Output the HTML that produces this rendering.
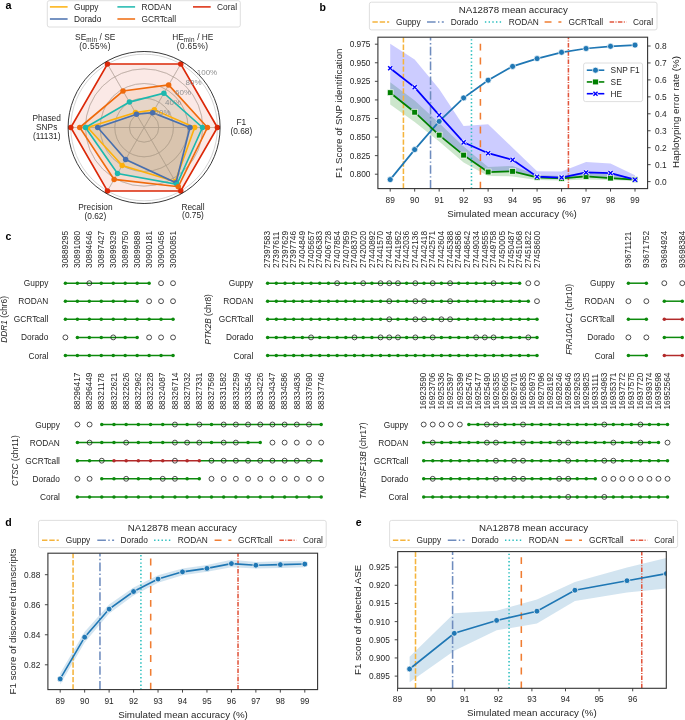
<!DOCTYPE html>
<html><head><meta charset="utf-8"><style>
html,body{margin:0;padding:0;background:#fff;width:685px;height:720px;overflow:hidden}
svg{display:block;will-change:transform}
text{font-family:"Liberation Sans", sans-serif}
</style></head><body>
<svg width="685" height="720" viewBox="0 0 685 720">
<rect width="685" height="720" fill="#fff"/>
<text x="5.6" y="9.2" font-size="10.8" fill="#000" font-weight="bold">a</text>
<circle cx="144.1" cy="127.5" r="14.66" fill="none" stroke="#c9c9c9" stroke-width="0.8"/>
<circle cx="144.1" cy="127.5" r="29.32" fill="none" stroke="#c9c9c9" stroke-width="0.8"/>
<circle cx="144.1" cy="127.5" r="43.98" fill="none" stroke="#c9c9c9" stroke-width="0.8"/>
<circle cx="144.1" cy="127.5" r="58.64" fill="none" stroke="#c9c9c9" stroke-width="0.8"/>
<circle cx="144.1" cy="127.5" r="73.3" fill="none" stroke="#c9c9c9" stroke-width="0.8"/>
<line x1="144.1" y1="127.5" x2="219.6" y2="127.5" stroke="#c9c9c9" stroke-width="0.8"/>
<line x1="144.1" y1="127.5" x2="181.85" y2="62.12" stroke="#c9c9c9" stroke-width="0.8"/>
<line x1="144.1" y1="127.5" x2="106.35" y2="62.12" stroke="#c9c9c9" stroke-width="0.8"/>
<line x1="144.1" y1="127.5" x2="68.6" y2="127.5" stroke="#c9c9c9" stroke-width="0.8"/>
<line x1="144.1" y1="127.5" x2="106.35" y2="192.88" stroke="#c9c9c9" stroke-width="0.8"/>
<line x1="144.1" y1="127.5" x2="181.85" y2="192.88" stroke="#c9c9c9" stroke-width="0.8"/>
<polygon points="194.68,127.5 154.36,109.73 135.49,112.58 87.66,127.5 122.18,165.46 175.25,181.46" stroke="none" stroke-width="1" fill="#fdb00c" fill-opacity="0.13"/>
<polygon points="189.99,127.5 152.68,112.65 136.48,114.3 97.7,127.5 125.63,159.49 175.99,182.73" stroke="none" stroke-width="1" fill="#486fae" fill-opacity="0.09"/>
<polygon points="202.52,127.5 163.89,93.22 129.44,102.11 85.46,127.5 117.49,173.59 176.94,184.38" stroke="none" stroke-width="1" fill="#1cb8ae" fill-opacity="0.1"/>
<polygon points="207.43,127.5 168.66,84.97 123.03,91 79.74,127.5 114.12,179.43 178.29,186.73" stroke="none" stroke-width="1" fill="#ef6a0c" fill-opacity="0.1"/>
<polygon points="217.4,127.5 180.75,64.02 107.45,64.02 70.8,127.5 107.45,190.98 180.75,190.98" stroke="none" stroke-width="1" fill="#dc2808" fill-opacity="0.1"/>
<circle cx="144.1" cy="127.5" r="14.66" fill="none" stroke="#a89a8c" stroke-width="0.7" stroke-opacity="0.55"/>
<circle cx="144.1" cy="127.5" r="29.32" fill="none" stroke="#a89a8c" stroke-width="0.7" stroke-opacity="0.55"/>
<circle cx="144.1" cy="127.5" r="43.98" fill="none" stroke="#a89a8c" stroke-width="0.7" stroke-opacity="0.55"/>
<circle cx="144.1" cy="127.5" r="58.64" fill="none" stroke="#a89a8c" stroke-width="0.7" stroke-opacity="0.55"/>
<line x1="144.1" y1="127.5" x2="217.4" y2="127.5" stroke="#a89a8c" stroke-width="0.7" stroke-opacity="0.55"/>
<line x1="144.1" y1="127.5" x2="180.75" y2="64.02" stroke="#a89a8c" stroke-width="0.7" stroke-opacity="0.55"/>
<line x1="144.1" y1="127.5" x2="107.45" y2="64.02" stroke="#a89a8c" stroke-width="0.7" stroke-opacity="0.55"/>
<line x1="144.1" y1="127.5" x2="70.8" y2="127.5" stroke="#a89a8c" stroke-width="0.7" stroke-opacity="0.55"/>
<line x1="144.1" y1="127.5" x2="107.45" y2="190.98" stroke="#a89a8c" stroke-width="0.7" stroke-opacity="0.55"/>
<line x1="144.1" y1="127.5" x2="180.75" y2="190.98" stroke="#a89a8c" stroke-width="0.7" stroke-opacity="0.55"/>
<polygon points="194.68,127.5 154.36,109.73 135.49,112.58 87.66,127.5 122.18,165.46 175.25,181.46" stroke="#fdb00c" stroke-width="1.65" fill="none"/>
<circle cx="194.68" cy="127.5" r="2.75" fill="#fdb00c" stroke="none" stroke-width="1"/>
<circle cx="154.36" cy="109.73" r="2.75" fill="#fdb00c" stroke="none" stroke-width="1"/>
<circle cx="135.49" cy="112.58" r="2.75" fill="#fdb00c" stroke="none" stroke-width="1"/>
<circle cx="87.66" cy="127.5" r="2.75" fill="#fdb00c" stroke="none" stroke-width="1"/>
<circle cx="122.18" cy="165.46" r="2.75" fill="#fdb00c" stroke="none" stroke-width="1"/>
<circle cx="175.25" cy="181.46" r="2.75" fill="#fdb00c" stroke="none" stroke-width="1"/>
<polygon points="189.99,127.5 152.68,112.65 136.48,114.3 97.7,127.5 125.63,159.49 175.99,182.73" stroke="#486fae" stroke-width="1.65" fill="none"/>
<circle cx="189.99" cy="127.5" r="2.75" fill="#486fae" stroke="none" stroke-width="1"/>
<circle cx="152.68" cy="112.65" r="2.75" fill="#486fae" stroke="none" stroke-width="1"/>
<circle cx="136.48" cy="114.3" r="2.75" fill="#486fae" stroke="none" stroke-width="1"/>
<circle cx="97.7" cy="127.5" r="2.75" fill="#486fae" stroke="none" stroke-width="1"/>
<circle cx="125.63" cy="159.49" r="2.75" fill="#486fae" stroke="none" stroke-width="1"/>
<circle cx="175.99" cy="182.73" r="2.75" fill="#486fae" stroke="none" stroke-width="1"/>
<polygon points="202.52,127.5 163.89,93.22 129.44,102.11 85.46,127.5 117.49,173.59 176.94,184.38" stroke="#1cb8ae" stroke-width="1.65" fill="none"/>
<circle cx="202.52" cy="127.5" r="2.75" fill="#1cb8ae" stroke="none" stroke-width="1"/>
<circle cx="163.89" cy="93.22" r="2.75" fill="#1cb8ae" stroke="none" stroke-width="1"/>
<circle cx="129.44" cy="102.11" r="2.75" fill="#1cb8ae" stroke="none" stroke-width="1"/>
<circle cx="85.46" cy="127.5" r="2.75" fill="#1cb8ae" stroke="none" stroke-width="1"/>
<circle cx="117.49" cy="173.59" r="2.75" fill="#1cb8ae" stroke="none" stroke-width="1"/>
<circle cx="176.94" cy="184.38" r="2.75" fill="#1cb8ae" stroke="none" stroke-width="1"/>
<polygon points="207.43,127.5 168.66,84.97 123.03,91 79.74,127.5 114.12,179.43 178.29,186.73" stroke="#ef6a0c" stroke-width="1.65" fill="none"/>
<circle cx="207.43" cy="127.5" r="2.75" fill="#ef6a0c" stroke="none" stroke-width="1"/>
<circle cx="168.66" cy="84.97" r="2.75" fill="#ef6a0c" stroke="none" stroke-width="1"/>
<circle cx="123.03" cy="91" r="2.75" fill="#ef6a0c" stroke="none" stroke-width="1"/>
<circle cx="79.74" cy="127.5" r="2.75" fill="#ef6a0c" stroke="none" stroke-width="1"/>
<circle cx="114.12" cy="179.43" r="2.75" fill="#ef6a0c" stroke="none" stroke-width="1"/>
<circle cx="178.29" cy="186.73" r="2.75" fill="#ef6a0c" stroke="none" stroke-width="1"/>
<polygon points="217.4,127.5 180.75,64.02 107.45,64.02 70.8,127.5 107.45,190.98 180.75,190.98" stroke="#dc2808" stroke-width="1.65" fill="none"/>
<circle cx="217.4" cy="127.5" r="2.75" fill="#dc2808" stroke="none" stroke-width="1"/>
<circle cx="180.75" cy="64.02" r="2.75" fill="#dc2808" stroke="none" stroke-width="1"/>
<circle cx="107.45" cy="64.02" r="2.75" fill="#dc2808" stroke="none" stroke-width="1"/>
<circle cx="70.8" cy="127.5" r="2.75" fill="#dc2808" stroke="none" stroke-width="1"/>
<circle cx="107.45" cy="190.98" r="2.75" fill="#dc2808" stroke="none" stroke-width="1"/>
<circle cx="180.75" cy="190.98" r="2.75" fill="#dc2808" stroke="none" stroke-width="1"/>
<circle cx="144.1" cy="127.5" r="76.01" fill="none" stroke="#222" stroke-width="0.9"/>
<text x="162.5" y="115.3" font-size="8" text-anchor="middle" fill="#8f8f8f">20%</text>
<text x="173" y="105.1" font-size="8" text-anchor="middle" fill="#8f8f8f">40%</text>
<text x="183" y="95.1" font-size="8" text-anchor="middle" fill="#8f8f8f">60%</text>
<text x="193.5" y="84.6" font-size="8" text-anchor="middle" fill="#8f8f8f">80%</text>
<text x="207" y="74.7" font-size="8" text-anchor="middle" fill="#8f8f8f">100%</text>
<text x="95.2" y="40" font-size="8.33" text-anchor="middle" fill="#262626">SE<tspan font-size="6.3" dy="1.5" letter-spacing="0.3">min</tspan><tspan dy="-1.5"> / SE</tspan></text>
<text x="95" y="49" font-size="8.33" text-anchor="middle" fill="#262626" letter-spacing="0.35">(0.55%)</text>
<text x="192.8" y="40" font-size="8.33" text-anchor="middle" fill="#262626">HE<tspan font-size="6.3" dy="1.5" letter-spacing="0.3">min</tspan><tspan dy="-1.5"> / HE</tspan></text>
<text x="192.6" y="49" font-size="8.33" text-anchor="middle" fill="#262626" letter-spacing="0.35">(0.65%)</text>
<text x="46.7" y="121" font-size="8.33" text-anchor="middle" fill="#262626">Phased</text>
<text x="46.7" y="130" font-size="8.33" text-anchor="middle" fill="#262626">SNPs</text>
<text x="46.7" y="138.9" font-size="8.33" text-anchor="middle" fill="#262626">(11131)</text>
<text x="241.3" y="125.4" font-size="8.33" text-anchor="middle" fill="#262626">F1</text>
<text x="241.3" y="134.3" font-size="8.33" text-anchor="middle" fill="#262626">(0.68)</text>
<text x="95.4" y="210" font-size="8.33" text-anchor="middle" fill="#262626">Precision</text>
<text x="95.4" y="218.7" font-size="8.33" text-anchor="middle" fill="#262626">(0.62)</text>
<text x="193" y="209.5" font-size="8.33" text-anchor="middle" fill="#262626">Recall</text>
<text x="193" y="218.3" font-size="8.33" text-anchor="middle" fill="#262626">(0.75)</text>
<rect x="47.3" y="0.7" width="193" height="26.3" rx="2" fill="#fff" stroke="#d6d6d6" stroke-width="0.8"/>
<line x1="49.9" y1="6.9" x2="67.6" y2="6.9" stroke="#fdb00c" stroke-width="1.5"/>
<text x="74" y="10" font-size="8.33" fill="#262626">Guppy</text>
<line x1="49.9" y1="19" x2="67.6" y2="19" stroke="#486fae" stroke-width="1.5"/>
<text x="74" y="22.1" font-size="8.33" fill="#262626">Dorado</text>
<line x1="117.4" y1="6.9" x2="135.1" y2="6.9" stroke="#1cb8ae" stroke-width="1.5"/>
<text x="141.5" y="10" font-size="8.33" fill="#262626">RODAN</text>
<line x1="117.4" y1="19" x2="135.1" y2="19" stroke="#ef6a0c" stroke-width="1.5"/>
<text x="141.5" y="22.1" font-size="8.33" fill="#262626">GCRT<tspan dx="-0.5">call</tspan></text>
<line x1="193" y1="6.9" x2="210.7" y2="6.9" stroke="#dc2808" stroke-width="1.5"/>
<text x="217.1" y="10" font-size="8.33" fill="#262626">Coral</text>
<text x="319.4" y="10.9" font-size="10.5" fill="#000" font-weight="bold">b</text>
<clipPath id="cb"><rect x="377.9" y="37.2" width="269.70000000000005" height="151.39999999999998"/></clipPath>
<g clip-path="url(#cb)">
<polygon points="390.2,82.3 414.68,100.4 439.16,123 463.64,146.4 488.12,167 512.6,166 537.08,175 561.56,176 586.04,172 610.52,174 635,178 635,181 610.52,180 586.04,179.5 561.56,180.5 537.08,180 512.6,176.4 488.12,176 463.64,162.5 439.16,141.5 414.68,122 390.2,104.5" stroke="none" stroke-width="1" fill="#008000" fill-opacity="0.2" stroke="#008000" stroke-opacity="0.2" stroke-width="0.8"/>
<polygon points="390.2,43.8 414.68,59.6 439.16,89 463.64,126.1 488.12,124.3 512.6,147.7 537.08,171.3 561.56,171.5 586.04,162.1 610.52,163.4 635,175.3 635,180.5 610.52,178.5 586.04,177 561.56,179 537.08,178 512.6,171 488.12,171 463.64,155.5 439.16,136 414.68,112.5 390.2,93.5" stroke="none" stroke-width="1" fill="#0000ff" fill-opacity="0.2" stroke="#0000ff" stroke-opacity="0.2" stroke-width="0.8"/>
<line x1="403.42" y1="188.6" x2="403.42" y2="37.2" stroke="#f5b43c" stroke-width="1.55" stroke-dasharray="5.4,1.9"/>
<line x1="430.54" y1="188.6" x2="430.54" y2="37.2" stroke="#6e8cbe" stroke-width="1.55" stroke-dasharray="8.6,2.4,1.4,2.4"/>
<line x1="471.47" y1="188.6" x2="471.47" y2="37.2" stroke="#28bebe" stroke-width="1.55" stroke-dasharray="1.4,2.3"/>
<line x1="480.41" y1="188.6" x2="480.41" y2="37.2" stroke="#f07d32" stroke-width="1.55" stroke-dasharray="6.9,6.9"/>
<line x1="568.41" y1="188.6" x2="568.41" y2="37.2" stroke="#e1553c" stroke-width="1.55" stroke-dasharray="4.5,1.4,1.0,1.4"/>
<polyline points="390.2,179.6 414.68,149.6 439.16,121.4 463.64,97.9 488.12,80.2 512.6,66.4 537.08,58.6 561.56,52.3 586.04,48.5 610.52,46.3 635,45.1" stroke="#1f77b4" stroke-width="1.75" fill="none"/>
<polyline points="390.2,92.7 414.68,112.2 439.16,135.1 463.64,155.1 488.12,172 512.6,171.3 537.08,177.4 561.56,178.4 586.04,176.5 610.52,178.1 635,179.7" stroke="#008000" stroke-width="1.75" fill="none"/>
<polyline points="390.2,68.3 414.68,87.3 439.16,115.1 463.64,142.4 488.12,153.2 512.6,159.9 537.08,176.7 561.56,177.5 586.04,172.5 610.52,173.1 635,179.7" stroke="#0000ff" stroke-width="1.75" fill="none"/>
<circle cx="390.2" cy="179.6" r="3" fill="#1f77b4" stroke="#fff" stroke-width="0.7"/>
<circle cx="414.68" cy="149.6" r="3" fill="#1f77b4" stroke="#fff" stroke-width="0.7"/>
<circle cx="439.16" cy="121.4" r="3" fill="#1f77b4" stroke="#fff" stroke-width="0.7"/>
<circle cx="463.64" cy="97.9" r="3" fill="#1f77b4" stroke="#fff" stroke-width="0.7"/>
<circle cx="488.12" cy="80.2" r="3" fill="#1f77b4" stroke="#fff" stroke-width="0.7"/>
<circle cx="512.6" cy="66.4" r="3" fill="#1f77b4" stroke="#fff" stroke-width="0.7"/>
<circle cx="537.08" cy="58.6" r="3" fill="#1f77b4" stroke="#fff" stroke-width="0.7"/>
<circle cx="561.56" cy="52.3" r="3" fill="#1f77b4" stroke="#fff" stroke-width="0.7"/>
<circle cx="586.04" cy="48.5" r="3" fill="#1f77b4" stroke="#fff" stroke-width="0.7"/>
<circle cx="610.52" cy="46.3" r="3" fill="#1f77b4" stroke="#fff" stroke-width="0.7"/>
<circle cx="635" cy="45.1" r="3" fill="#1f77b4" stroke="#fff" stroke-width="0.7"/>
<rect x="387.3" y="89.8" width="5.8" height="5.8" rx="0" fill="#008000" stroke="#fff" stroke-width="0.7"/>
<rect x="411.78" y="109.3" width="5.8" height="5.8" rx="0" fill="#008000" stroke="#fff" stroke-width="0.7"/>
<rect x="436.26" y="132.2" width="5.8" height="5.8" rx="0" fill="#008000" stroke="#fff" stroke-width="0.7"/>
<rect x="460.74" y="152.2" width="5.8" height="5.8" rx="0" fill="#008000" stroke="#fff" stroke-width="0.7"/>
<rect x="485.22" y="169.1" width="5.8" height="5.8" rx="0" fill="#008000" stroke="#fff" stroke-width="0.7"/>
<rect x="509.7" y="168.4" width="5.8" height="5.8" rx="0" fill="#008000" stroke="#fff" stroke-width="0.7"/>
<rect x="534.18" y="174.5" width="5.8" height="5.8" rx="0" fill="#008000" stroke="#fff" stroke-width="0.7"/>
<rect x="558.66" y="175.5" width="5.8" height="5.8" rx="0" fill="#008000" stroke="#fff" stroke-width="0.7"/>
<rect x="583.14" y="173.6" width="5.8" height="5.8" rx="0" fill="#008000" stroke="#fff" stroke-width="0.7"/>
<rect x="607.62" y="175.2" width="5.8" height="5.8" rx="0" fill="#008000" stroke="#fff" stroke-width="0.7"/>
<rect x="632.1" y="176.8" width="5.8" height="5.8" rx="0" fill="#008000" stroke="#fff" stroke-width="0.7"/>
<path d="M388.15,66.25L392.25,70.35M388.15,70.35L392.25,66.25" stroke="#fff" stroke-width="2.8"/>
<path d="M388.15,66.25L392.25,70.35M388.15,70.35L392.25,66.25" stroke="#0000ff" stroke-width="1.4"/>
<path d="M412.63,85.25L416.73,89.35M412.63,89.35L416.73,85.25" stroke="#fff" stroke-width="2.8"/>
<path d="M412.63,85.25L416.73,89.35M412.63,89.35L416.73,85.25" stroke="#0000ff" stroke-width="1.4"/>
<path d="M437.11,113.05L441.21,117.15M437.11,117.15L441.21,113.05" stroke="#fff" stroke-width="2.8"/>
<path d="M437.11,113.05L441.21,117.15M437.11,117.15L441.21,113.05" stroke="#0000ff" stroke-width="1.4"/>
<path d="M461.59,140.35L465.69,144.45M461.59,144.45L465.69,140.35" stroke="#fff" stroke-width="2.8"/>
<path d="M461.59,140.35L465.69,144.45M461.59,144.45L465.69,140.35" stroke="#0000ff" stroke-width="1.4"/>
<path d="M486.07,151.15L490.17,155.25M486.07,155.25L490.17,151.15" stroke="#fff" stroke-width="2.8"/>
<path d="M486.07,151.15L490.17,155.25M486.07,155.25L490.17,151.15" stroke="#0000ff" stroke-width="1.4"/>
<path d="M510.55,157.85L514.65,161.95M510.55,161.95L514.65,157.85" stroke="#fff" stroke-width="2.8"/>
<path d="M510.55,157.85L514.65,161.95M510.55,161.95L514.65,157.85" stroke="#0000ff" stroke-width="1.4"/>
<path d="M535.03,174.65L539.13,178.75M535.03,178.75L539.13,174.65" stroke="#fff" stroke-width="2.8"/>
<path d="M535.03,174.65L539.13,178.75M535.03,178.75L539.13,174.65" stroke="#0000ff" stroke-width="1.4"/>
<path d="M559.51,175.45L563.61,179.55M559.51,179.55L563.61,175.45" stroke="#fff" stroke-width="2.8"/>
<path d="M559.51,175.45L563.61,179.55M559.51,179.55L563.61,175.45" stroke="#0000ff" stroke-width="1.4"/>
<path d="M583.99,170.45L588.09,174.55M583.99,174.55L588.09,170.45" stroke="#fff" stroke-width="2.8"/>
<path d="M583.99,170.45L588.09,174.55M583.99,174.55L588.09,170.45" stroke="#0000ff" stroke-width="1.4"/>
<path d="M608.47,171.05L612.57,175.15M608.47,175.15L612.57,171.05" stroke="#fff" stroke-width="2.8"/>
<path d="M608.47,171.05L612.57,175.15M608.47,175.15L612.57,171.05" stroke="#0000ff" stroke-width="1.4"/>
<path d="M632.95,177.65L637.05,181.75M632.95,181.75L637.05,177.65" stroke="#fff" stroke-width="2.8"/>
<path d="M632.95,177.65L637.05,181.75M632.95,181.75L637.05,177.65" stroke="#0000ff" stroke-width="1.4"/>
</g>
<rect x="377.9" y="37.2" width="269.7" height="151.4" rx="0" fill="none" stroke="#333" stroke-width="1.1"/>
<line x1="390.2" y1="188.6" x2="390.2" y2="191.6" stroke="#333" stroke-width="0.9"/>
<text x="390.2" y="202.8" font-size="8.33" text-anchor="middle" fill="#262626">89</text>
<line x1="414.68" y1="188.6" x2="414.68" y2="191.6" stroke="#333" stroke-width="0.9"/>
<text x="414.68" y="202.8" font-size="8.33" text-anchor="middle" fill="#262626">90</text>
<line x1="439.16" y1="188.6" x2="439.16" y2="191.6" stroke="#333" stroke-width="0.9"/>
<text x="439.16" y="202.8" font-size="8.33" text-anchor="middle" fill="#262626">91</text>
<line x1="463.64" y1="188.6" x2="463.64" y2="191.6" stroke="#333" stroke-width="0.9"/>
<text x="463.64" y="202.8" font-size="8.33" text-anchor="middle" fill="#262626">92</text>
<line x1="488.12" y1="188.6" x2="488.12" y2="191.6" stroke="#333" stroke-width="0.9"/>
<text x="488.12" y="202.8" font-size="8.33" text-anchor="middle" fill="#262626">93</text>
<line x1="512.6" y1="188.6" x2="512.6" y2="191.6" stroke="#333" stroke-width="0.9"/>
<text x="512.6" y="202.8" font-size="8.33" text-anchor="middle" fill="#262626">94</text>
<line x1="537.08" y1="188.6" x2="537.08" y2="191.6" stroke="#333" stroke-width="0.9"/>
<text x="537.08" y="202.8" font-size="8.33" text-anchor="middle" fill="#262626">95</text>
<line x1="561.56" y1="188.6" x2="561.56" y2="191.6" stroke="#333" stroke-width="0.9"/>
<text x="561.56" y="202.8" font-size="8.33" text-anchor="middle" fill="#262626">96</text>
<line x1="586.04" y1="188.6" x2="586.04" y2="191.6" stroke="#333" stroke-width="0.9"/>
<text x="586.04" y="202.8" font-size="8.33" text-anchor="middle" fill="#262626">97</text>
<line x1="610.52" y1="188.6" x2="610.52" y2="191.6" stroke="#333" stroke-width="0.9"/>
<text x="610.52" y="202.8" font-size="8.33" text-anchor="middle" fill="#262626">98</text>
<line x1="635" y1="188.6" x2="635" y2="191.6" stroke="#333" stroke-width="0.9"/>
<text x="635" y="202.8" font-size="8.33" text-anchor="middle" fill="#262626">99</text>
<line x1="374.9" y1="174.21" x2="377.9" y2="174.21" stroke="#333" stroke-width="0.9"/>
<text x="370.5" y="177.21" font-size="8.33" text-anchor="end" fill="#262626">0.800</text>
<line x1="374.9" y1="155.64" x2="377.9" y2="155.64" stroke="#333" stroke-width="0.9"/>
<text x="370.5" y="158.64" font-size="8.33" text-anchor="end" fill="#262626">0.825</text>
<line x1="374.9" y1="137.06" x2="377.9" y2="137.06" stroke="#333" stroke-width="0.9"/>
<text x="370.5" y="140.06" font-size="8.33" text-anchor="end" fill="#262626">0.850</text>
<line x1="374.9" y1="118.49" x2="377.9" y2="118.49" stroke="#333" stroke-width="0.9"/>
<text x="370.5" y="121.49" font-size="8.33" text-anchor="end" fill="#262626">0.875</text>
<line x1="374.9" y1="99.92" x2="377.9" y2="99.92" stroke="#333" stroke-width="0.9"/>
<text x="370.5" y="102.92" font-size="8.33" text-anchor="end" fill="#262626">0.900</text>
<line x1="374.9" y1="81.34" x2="377.9" y2="81.34" stroke="#333" stroke-width="0.9"/>
<text x="370.5" y="84.34" font-size="8.33" text-anchor="end" fill="#262626">0.925</text>
<line x1="374.9" y1="62.77" x2="377.9" y2="62.77" stroke="#333" stroke-width="0.9"/>
<text x="370.5" y="65.77" font-size="8.33" text-anchor="end" fill="#262626">0.950</text>
<line x1="374.9" y1="44.2" x2="377.9" y2="44.2" stroke="#333" stroke-width="0.9"/>
<text x="370.5" y="47.2" font-size="8.33" text-anchor="end" fill="#262626">0.975</text>
<line x1="647.6" y1="181.6" x2="650.6" y2="181.6" stroke="#333" stroke-width="0.9"/>
<text x="655" y="184.6" font-size="8.33" fill="#262626">0.0</text>
<line x1="647.6" y1="164.65" x2="650.6" y2="164.65" stroke="#333" stroke-width="0.9"/>
<text x="655" y="167.65" font-size="8.33" fill="#262626">0.1</text>
<line x1="647.6" y1="147.7" x2="650.6" y2="147.7" stroke="#333" stroke-width="0.9"/>
<text x="655" y="150.7" font-size="8.33" fill="#262626">0.2</text>
<line x1="647.6" y1="130.75" x2="650.6" y2="130.75" stroke="#333" stroke-width="0.9"/>
<text x="655" y="133.75" font-size="8.33" fill="#262626">0.3</text>
<line x1="647.6" y1="113.8" x2="650.6" y2="113.8" stroke="#333" stroke-width="0.9"/>
<text x="655" y="116.8" font-size="8.33" fill="#262626">0.4</text>
<line x1="647.6" y1="96.85" x2="650.6" y2="96.85" stroke="#333" stroke-width="0.9"/>
<text x="655" y="99.85" font-size="8.33" fill="#262626">0.5</text>
<line x1="647.6" y1="79.9" x2="650.6" y2="79.9" stroke="#333" stroke-width="0.9"/>
<text x="655" y="82.9" font-size="8.33" fill="#262626">0.6</text>
<line x1="647.6" y1="62.95" x2="650.6" y2="62.95" stroke="#333" stroke-width="0.9"/>
<text x="655" y="65.95" font-size="8.33" fill="#262626">0.7</text>
<line x1="647.6" y1="46" x2="650.6" y2="46" stroke="#333" stroke-width="0.9"/>
<text x="655" y="49" font-size="8.33" fill="#262626">0.8</text>
<text x="512" y="217.1" font-size="9.72" text-anchor="middle" fill="#262626">Simulated mean accuracy (%)</text>
<text x="341.9" y="113.2" font-size="9.72" text-anchor="middle" fill="#262626" transform="rotate(-90 341.9 113.2)">F1 Score of SNP identification</text>
<text x="679.2" y="112" font-size="9.72" text-anchor="middle" fill="#262626" transform="rotate(-90 679.2 112)">Haplotyping error rate (%)</text>
<rect x="583.6" y="63" width="59" height="38.6" rx="2" fill="#fff" stroke="#d6d6d6" stroke-width="0.8" fill-opacity="0.8"/>
<line x1="586.8" y1="70.2" x2="604.3" y2="70.2" stroke="#1f77b4" stroke-width="1.6"/>
<circle cx="595.5" cy="70.2" r="3" fill="#1f77b4" stroke="#fff" stroke-width="0.7"/>
<text x="610.6" y="73.2" font-size="8.33" fill="#262626">SNP F1</text>
<line x1="586.8" y1="81.95" x2="604.3" y2="81.95" stroke="#008000" stroke-width="1.6"/>
<rect x="592.6" y="79.05" width="5.8" height="5.8" rx="0" fill="#008000" stroke="#fff" stroke-width="0.7"/>
<text x="610.6" y="84.95" font-size="8.33" fill="#262626">SE</text>
<line x1="586.8" y1="93.7" x2="604.3" y2="93.7" stroke="#0000ff" stroke-width="1.6"/>
<path d="M593.45,91.65L597.55,95.75M593.45,95.75L597.55,91.65" stroke="#fff" stroke-width="2.8"/>
<path d="M593.45,91.65L597.55,95.75M593.45,95.75L597.55,91.65" stroke="#0000ff" stroke-width="1.4"/>
<text x="610.6" y="96.7" font-size="8.33" fill="#262626">HE</text>
<rect x="369.4" y="2.2" width="287.6" height="27.7" rx="2" fill="#fff" stroke="#d6d6d6" stroke-width="0.8"/>
<text x="513.2" y="12.5" font-size="9.72" text-anchor="middle" fill="#262626">NA12878 mean accuracy</text>
<line x1="372.4" y1="22" x2="389.2" y2="22" stroke="#f5b43c" stroke-width="1.55" stroke-dasharray="5.4,1.9"/>
<text x="396.1" y="25" font-size="8.33" fill="#262626">Guppy</text>
<line x1="427" y1="22" x2="443.8" y2="22" stroke="#6e8cbe" stroke-width="1.55" stroke-dasharray="8.6,2.4,1.4,2.4"/>
<text x="450.8" y="25" font-size="8.33" fill="#262626">Dorado</text>
<line x1="484.9" y1="22" x2="501.7" y2="22" stroke="#28bebe" stroke-width="1.55" stroke-dasharray="1.4,2.3"/>
<text x="508.7" y="25" font-size="8.33" fill="#262626">RODAN</text>
<line x1="544.6" y1="22" x2="561.4" y2="22" stroke="#f07d32" stroke-width="1.55" stroke-dasharray="6.9,6.9"/>
<text x="568.6" y="25" font-size="8.33" fill="#262626">GCRT<tspan dx="-0.5">call</tspan></text>
<line x1="609.6" y1="22" x2="626.4" y2="22" stroke="#e1553c" stroke-width="1.55" stroke-dasharray="4.5,1.4,1.0,1.4"/>
<text x="633.1" y="25" font-size="8.33" fill="#262626">Coral</text>
<text x="5.5" y="240.4" font-size="10.5" fill="#000" font-weight="bold">c</text>
<text x="48.4" y="286.2" font-size="8.33" text-anchor="end" fill="#262626">Guppy</text>
<line x1="65.4" y1="283.2" x2="149.12" y2="283.2" stroke="#0d8a0d" stroke-width="1.5"/>
<circle cx="65.4" cy="283.2" r="1.75" fill="#0d8a0d" stroke="none" stroke-width="1"/>
<circle cx="77.36" cy="283.2" r="1.75" fill="#0d8a0d" stroke="none" stroke-width="1"/>
<circle cx="89.32" cy="283.2" r="2.45" fill="none" stroke="#222" stroke-width="0.8"/>
<circle cx="101.28" cy="283.2" r="1.75" fill="#0d8a0d" stroke="none" stroke-width="1"/>
<circle cx="113.24" cy="283.2" r="1.75" fill="#0d8a0d" stroke="none" stroke-width="1"/>
<circle cx="125.2" cy="283.2" r="1.75" fill="#0d8a0d" stroke="none" stroke-width="1"/>
<circle cx="137.16" cy="283.2" r="1.75" fill="#0d8a0d" stroke="none" stroke-width="1"/>
<circle cx="149.12" cy="283.2" r="1.75" fill="#0d8a0d" stroke="none" stroke-width="1"/>
<circle cx="161.08" cy="283.2" r="2.45" fill="none" stroke="#222" stroke-width="0.8"/>
<circle cx="173.04" cy="283.2" r="2.45" fill="none" stroke="#222" stroke-width="0.8"/>
<text x="48.4" y="304.2" font-size="8.33" text-anchor="end" fill="#262626">RODAN</text>
<line x1="65.4" y1="301.2" x2="137.16" y2="301.2" stroke="#0d8a0d" stroke-width="1.5"/>
<circle cx="65.4" cy="301.2" r="1.75" fill="#0d8a0d" stroke="none" stroke-width="1"/>
<circle cx="77.36" cy="301.2" r="1.75" fill="#0d8a0d" stroke="none" stroke-width="1"/>
<circle cx="89.32" cy="301.2" r="1.75" fill="#0d8a0d" stroke="none" stroke-width="1"/>
<circle cx="101.28" cy="301.2" r="1.75" fill="#0d8a0d" stroke="none" stroke-width="1"/>
<circle cx="113.24" cy="301.2" r="1.75" fill="#0d8a0d" stroke="none" stroke-width="1"/>
<circle cx="125.2" cy="301.2" r="1.75" fill="#0d8a0d" stroke="none" stroke-width="1"/>
<circle cx="137.16" cy="301.2" r="1.75" fill="#0d8a0d" stroke="none" stroke-width="1"/>
<circle cx="149.12" cy="301.2" r="2.45" fill="none" stroke="#222" stroke-width="0.8"/>
<circle cx="161.08" cy="301.2" r="2.45" fill="none" stroke="#222" stroke-width="0.8"/>
<circle cx="173.04" cy="301.2" r="2.45" fill="none" stroke="#222" stroke-width="0.8"/>
<text x="48.4" y="322.3" font-size="8.33" text-anchor="end" fill="#262626">GCRT<tspan dx="-0.5">call</tspan></text>
<line x1="65.4" y1="319.3" x2="173.04" y2="319.3" stroke="#0d8a0d" stroke-width="1.5"/>
<circle cx="65.4" cy="319.3" r="1.75" fill="#0d8a0d" stroke="none" stroke-width="1"/>
<circle cx="77.36" cy="319.3" r="1.75" fill="#0d8a0d" stroke="none" stroke-width="1"/>
<circle cx="89.32" cy="319.3" r="1.75" fill="#0d8a0d" stroke="none" stroke-width="1"/>
<circle cx="101.28" cy="319.3" r="1.75" fill="#0d8a0d" stroke="none" stroke-width="1"/>
<circle cx="113.24" cy="319.3" r="1.75" fill="#0d8a0d" stroke="none" stroke-width="1"/>
<circle cx="125.2" cy="319.3" r="1.75" fill="#0d8a0d" stroke="none" stroke-width="1"/>
<circle cx="137.16" cy="319.3" r="1.75" fill="#0d8a0d" stroke="none" stroke-width="1"/>
<circle cx="149.12" cy="319.3" r="1.75" fill="#0d8a0d" stroke="none" stroke-width="1"/>
<circle cx="161.08" cy="319.3" r="1.75" fill="#0d8a0d" stroke="none" stroke-width="1"/>
<circle cx="173.04" cy="319.3" r="1.75" fill="#0d8a0d" stroke="none" stroke-width="1"/>
<text x="48.4" y="340.4" font-size="8.33" text-anchor="end" fill="#262626">Dorado</text>
<line x1="77.36" y1="337.4" x2="137.16" y2="337.4" stroke="#0d8a0d" stroke-width="1.5"/>
<circle cx="65.4" cy="337.4" r="2.45" fill="none" stroke="#222" stroke-width="0.8"/>
<circle cx="77.36" cy="337.4" r="1.75" fill="#0d8a0d" stroke="none" stroke-width="1"/>
<circle cx="89.32" cy="337.4" r="1.75" fill="#0d8a0d" stroke="none" stroke-width="1"/>
<circle cx="101.28" cy="337.4" r="1.75" fill="#0d8a0d" stroke="none" stroke-width="1"/>
<circle cx="113.24" cy="337.4" r="2.45" fill="none" stroke="#222" stroke-width="0.8"/>
<circle cx="125.2" cy="337.4" r="1.75" fill="#0d8a0d" stroke="none" stroke-width="1"/>
<circle cx="137.16" cy="337.4" r="1.75" fill="#0d8a0d" stroke="none" stroke-width="1"/>
<circle cx="149.12" cy="337.4" r="2.45" fill="none" stroke="#222" stroke-width="0.8"/>
<circle cx="161.08" cy="337.4" r="2.45" fill="none" stroke="#222" stroke-width="0.8"/>
<circle cx="173.04" cy="337.4" r="2.45" fill="none" stroke="#222" stroke-width="0.8"/>
<text x="48.4" y="358.5" font-size="8.33" text-anchor="end" fill="#262626">Coral</text>
<line x1="65.4" y1="355.5" x2="173.04" y2="355.5" stroke="#0d8a0d" stroke-width="1.5"/>
<circle cx="65.4" cy="355.5" r="1.75" fill="#0d8a0d" stroke="none" stroke-width="1"/>
<circle cx="77.36" cy="355.5" r="1.75" fill="#0d8a0d" stroke="none" stroke-width="1"/>
<circle cx="89.32" cy="355.5" r="1.75" fill="#0d8a0d" stroke="none" stroke-width="1"/>
<circle cx="101.28" cy="355.5" r="1.75" fill="#0d8a0d" stroke="none" stroke-width="1"/>
<circle cx="113.24" cy="355.5" r="1.75" fill="#0d8a0d" stroke="none" stroke-width="1"/>
<circle cx="125.2" cy="355.5" r="1.75" fill="#0d8a0d" stroke="none" stroke-width="1"/>
<circle cx="137.16" cy="355.5" r="1.75" fill="#0d8a0d" stroke="none" stroke-width="1"/>
<circle cx="149.12" cy="355.5" r="1.75" fill="#0d8a0d" stroke="none" stroke-width="1"/>
<circle cx="161.08" cy="355.5" r="1.75" fill="#0d8a0d" stroke="none" stroke-width="1"/>
<circle cx="173.04" cy="355.5" r="1.75" fill="#0d8a0d" stroke="none" stroke-width="1"/>
<text x="68.1" y="268" font-size="8.33" fill="#262626" transform="rotate(-90 68.1 268)">30889295</text>
<text x="80.06" y="268" font-size="8.33" fill="#262626" transform="rotate(-90 80.06 268)">30891080</text>
<text x="92.02" y="268" font-size="8.33" fill="#262626" transform="rotate(-90 92.02 268)">30894646</text>
<text x="103.98" y="268" font-size="8.33" fill="#262626" transform="rotate(-90 103.98 268)">30897427</text>
<text x="115.94" y="268" font-size="8.33" fill="#262626" transform="rotate(-90 115.94 268)">30899329</text>
<text x="127.9" y="268" font-size="8.33" fill="#262626" transform="rotate(-90 127.9 268)">30899750</text>
<text x="139.86" y="268" font-size="8.33" fill="#262626" transform="rotate(-90 139.86 268)">30899889</text>
<text x="151.82" y="268" font-size="8.33" fill="#262626" transform="rotate(-90 151.82 268)">30900181</text>
<text x="163.78" y="268" font-size="8.33" fill="#262626" transform="rotate(-90 163.78 268)">30900456</text>
<text x="175.74" y="268" font-size="8.33" fill="#262626" transform="rotate(-90 175.74 268)">30900851</text>
<text x="7.2" y="319.35" font-size="8.33" text-anchor="middle" fill="#262626" transform="rotate(-90 7.2 319.35)"><tspan font-style="italic">DDR1</tspan> (chr6)</text>
<text x="253.3" y="286.2" font-size="8.33" text-anchor="end" fill="#262626">Guppy</text>
<line x1="267.6" y1="283.2" x2="519.61" y2="283.2" stroke="#0d8a0d" stroke-width="1.5"/>
<circle cx="267.6" cy="283.2" r="1.75" fill="#0d8a0d" stroke="none" stroke-width="1"/>
<circle cx="276.29" cy="283.2" r="1.75" fill="#0d8a0d" stroke="none" stroke-width="1"/>
<circle cx="284.98" cy="283.2" r="1.75" fill="#0d8a0d" stroke="none" stroke-width="1"/>
<circle cx="293.67" cy="283.2" r="1.75" fill="#0d8a0d" stroke="none" stroke-width="1"/>
<circle cx="302.36" cy="283.2" r="1.75" fill="#0d8a0d" stroke="none" stroke-width="1"/>
<circle cx="311.05" cy="283.2" r="1.75" fill="#0d8a0d" stroke="none" stroke-width="1"/>
<circle cx="319.74" cy="283.2" r="1.75" fill="#0d8a0d" stroke="none" stroke-width="1"/>
<circle cx="328.43" cy="283.2" r="1.75" fill="#0d8a0d" stroke="none" stroke-width="1"/>
<circle cx="337.12" cy="283.2" r="2.45" fill="none" stroke="#222" stroke-width="0.8"/>
<circle cx="345.81" cy="283.2" r="1.75" fill="#0d8a0d" stroke="none" stroke-width="1"/>
<circle cx="354.5" cy="283.2" r="1.75" fill="#0d8a0d" stroke="none" stroke-width="1"/>
<circle cx="363.19" cy="283.2" r="2.45" fill="none" stroke="#222" stroke-width="0.8"/>
<circle cx="371.88" cy="283.2" r="1.75" fill="#0d8a0d" stroke="none" stroke-width="1"/>
<circle cx="380.57" cy="283.2" r="2.45" fill="none" stroke="#222" stroke-width="0.8"/>
<circle cx="389.26" cy="283.2" r="2.45" fill="none" stroke="#222" stroke-width="0.8"/>
<circle cx="397.95" cy="283.2" r="2.45" fill="none" stroke="#222" stroke-width="0.8"/>
<circle cx="406.64" cy="283.2" r="1.75" fill="#0d8a0d" stroke="none" stroke-width="1"/>
<circle cx="415.33" cy="283.2" r="2.45" fill="none" stroke="#222" stroke-width="0.8"/>
<circle cx="424.02" cy="283.2" r="1.75" fill="#0d8a0d" stroke="none" stroke-width="1"/>
<circle cx="432.71" cy="283.2" r="2.45" fill="none" stroke="#222" stroke-width="0.8"/>
<circle cx="441.4" cy="283.2" r="1.75" fill="#0d8a0d" stroke="none" stroke-width="1"/>
<circle cx="450.09" cy="283.2" r="2.45" fill="none" stroke="#222" stroke-width="0.8"/>
<circle cx="458.78" cy="283.2" r="1.75" fill="#0d8a0d" stroke="none" stroke-width="1"/>
<circle cx="467.47" cy="283.2" r="1.75" fill="#0d8a0d" stroke="none" stroke-width="1"/>
<circle cx="476.16" cy="283.2" r="1.75" fill="#0d8a0d" stroke="none" stroke-width="1"/>
<circle cx="484.85" cy="283.2" r="1.75" fill="#0d8a0d" stroke="none" stroke-width="1"/>
<circle cx="493.54" cy="283.2" r="2.45" fill="none" stroke="#222" stroke-width="0.8"/>
<circle cx="502.23" cy="283.2" r="1.75" fill="#0d8a0d" stroke="none" stroke-width="1"/>
<circle cx="510.92" cy="283.2" r="1.75" fill="#0d8a0d" stroke="none" stroke-width="1"/>
<circle cx="519.61" cy="283.2" r="1.75" fill="#0d8a0d" stroke="none" stroke-width="1"/>
<circle cx="528.3" cy="283.2" r="2.45" fill="none" stroke="#222" stroke-width="0.8"/>
<circle cx="536.99" cy="283.2" r="2.45" fill="none" stroke="#222" stroke-width="0.8"/>
<text x="253.3" y="304.2" font-size="8.33" text-anchor="end" fill="#262626">RODAN</text>
<line x1="267.6" y1="301.2" x2="528.3" y2="301.2" stroke="#0d8a0d" stroke-width="1.5"/>
<circle cx="267.6" cy="301.2" r="1.75" fill="#0d8a0d" stroke="none" stroke-width="1"/>
<circle cx="276.29" cy="301.2" r="1.75" fill="#0d8a0d" stroke="none" stroke-width="1"/>
<circle cx="284.98" cy="301.2" r="1.75" fill="#0d8a0d" stroke="none" stroke-width="1"/>
<circle cx="293.67" cy="301.2" r="1.75" fill="#0d8a0d" stroke="none" stroke-width="1"/>
<circle cx="302.36" cy="301.2" r="1.75" fill="#0d8a0d" stroke="none" stroke-width="1"/>
<circle cx="311.05" cy="301.2" r="1.75" fill="#0d8a0d" stroke="none" stroke-width="1"/>
<circle cx="319.74" cy="301.2" r="1.75" fill="#0d8a0d" stroke="none" stroke-width="1"/>
<circle cx="328.43" cy="301.2" r="1.75" fill="#0d8a0d" stroke="none" stroke-width="1"/>
<circle cx="337.12" cy="301.2" r="1.75" fill="#0d8a0d" stroke="none" stroke-width="1"/>
<circle cx="345.81" cy="301.2" r="1.75" fill="#0d8a0d" stroke="none" stroke-width="1"/>
<circle cx="354.5" cy="301.2" r="1.75" fill="#0d8a0d" stroke="none" stroke-width="1"/>
<circle cx="363.19" cy="301.2" r="1.75" fill="#0d8a0d" stroke="none" stroke-width="1"/>
<circle cx="371.88" cy="301.2" r="1.75" fill="#0d8a0d" stroke="none" stroke-width="1"/>
<circle cx="380.57" cy="301.2" r="1.75" fill="#0d8a0d" stroke="none" stroke-width="1"/>
<circle cx="389.26" cy="301.2" r="2.45" fill="none" stroke="#222" stroke-width="0.8"/>
<circle cx="397.95" cy="301.2" r="1.75" fill="#0d8a0d" stroke="none" stroke-width="1"/>
<circle cx="406.64" cy="301.2" r="1.75" fill="#0d8a0d" stroke="none" stroke-width="1"/>
<circle cx="415.33" cy="301.2" r="2.45" fill="none" stroke="#222" stroke-width="0.8"/>
<circle cx="424.02" cy="301.2" r="2.45" fill="none" stroke="#222" stroke-width="0.8"/>
<circle cx="432.71" cy="301.2" r="1.75" fill="#0d8a0d" stroke="none" stroke-width="1"/>
<circle cx="441.4" cy="301.2" r="1.75" fill="#0d8a0d" stroke="none" stroke-width="1"/>
<circle cx="450.09" cy="301.2" r="2.45" fill="none" stroke="#222" stroke-width="0.8"/>
<circle cx="458.78" cy="301.2" r="1.75" fill="#0d8a0d" stroke="none" stroke-width="1"/>
<circle cx="467.47" cy="301.2" r="1.75" fill="#0d8a0d" stroke="none" stroke-width="1"/>
<circle cx="476.16" cy="301.2" r="1.75" fill="#0d8a0d" stroke="none" stroke-width="1"/>
<circle cx="484.85" cy="301.2" r="1.75" fill="#0d8a0d" stroke="none" stroke-width="1"/>
<circle cx="493.54" cy="301.2" r="1.75" fill="#0d8a0d" stroke="none" stroke-width="1"/>
<circle cx="502.23" cy="301.2" r="1.75" fill="#0d8a0d" stroke="none" stroke-width="1"/>
<circle cx="510.92" cy="301.2" r="1.75" fill="#0d8a0d" stroke="none" stroke-width="1"/>
<circle cx="519.61" cy="301.2" r="1.75" fill="#0d8a0d" stroke="none" stroke-width="1"/>
<circle cx="528.3" cy="301.2" r="1.75" fill="#0d8a0d" stroke="none" stroke-width="1"/>
<circle cx="536.99" cy="301.2" r="2.45" fill="none" stroke="#222" stroke-width="0.8"/>
<text x="253.3" y="322.3" font-size="8.33" text-anchor="end" fill="#262626">GCRT<tspan dx="-0.5">call</tspan></text>
<line x1="267.6" y1="319.3" x2="536.99" y2="319.3" stroke="#0d8a0d" stroke-width="1.5"/>
<circle cx="267.6" cy="319.3" r="1.75" fill="#0d8a0d" stroke="none" stroke-width="1"/>
<circle cx="276.29" cy="319.3" r="1.75" fill="#0d8a0d" stroke="none" stroke-width="1"/>
<circle cx="284.98" cy="319.3" r="1.75" fill="#0d8a0d" stroke="none" stroke-width="1"/>
<circle cx="293.67" cy="319.3" r="1.75" fill="#0d8a0d" stroke="none" stroke-width="1"/>
<circle cx="302.36" cy="319.3" r="1.75" fill="#0d8a0d" stroke="none" stroke-width="1"/>
<circle cx="311.05" cy="319.3" r="1.75" fill="#0d8a0d" stroke="none" stroke-width="1"/>
<circle cx="319.74" cy="319.3" r="1.75" fill="#0d8a0d" stroke="none" stroke-width="1"/>
<circle cx="328.43" cy="319.3" r="1.75" fill="#0d8a0d" stroke="none" stroke-width="1"/>
<circle cx="337.12" cy="319.3" r="1.75" fill="#0d8a0d" stroke="none" stroke-width="1"/>
<circle cx="345.81" cy="319.3" r="1.75" fill="#0d8a0d" stroke="none" stroke-width="1"/>
<circle cx="354.5" cy="319.3" r="1.75" fill="#0d8a0d" stroke="none" stroke-width="1"/>
<circle cx="363.19" cy="319.3" r="1.75" fill="#0d8a0d" stroke="none" stroke-width="1"/>
<circle cx="371.88" cy="319.3" r="1.75" fill="#0d8a0d" stroke="none" stroke-width="1"/>
<circle cx="380.57" cy="319.3" r="1.75" fill="#0d8a0d" stroke="none" stroke-width="1"/>
<circle cx="389.26" cy="319.3" r="2.45" fill="none" stroke="#222" stroke-width="0.8"/>
<circle cx="397.95" cy="319.3" r="1.75" fill="#0d8a0d" stroke="none" stroke-width="1"/>
<circle cx="406.64" cy="319.3" r="1.75" fill="#0d8a0d" stroke="none" stroke-width="1"/>
<circle cx="415.33" cy="319.3" r="2.45" fill="none" stroke="#222" stroke-width="0.8"/>
<circle cx="424.02" cy="319.3" r="2.45" fill="none" stroke="#222" stroke-width="0.8"/>
<circle cx="432.71" cy="319.3" r="1.75" fill="#0d8a0d" stroke="none" stroke-width="1"/>
<circle cx="441.4" cy="319.3" r="2.45" fill="none" stroke="#222" stroke-width="0.8"/>
<circle cx="450.09" cy="319.3" r="2.45" fill="none" stroke="#222" stroke-width="0.8"/>
<circle cx="458.78" cy="319.3" r="1.75" fill="#0d8a0d" stroke="none" stroke-width="1"/>
<circle cx="467.47" cy="319.3" r="1.75" fill="#0d8a0d" stroke="none" stroke-width="1"/>
<circle cx="476.16" cy="319.3" r="1.75" fill="#0d8a0d" stroke="none" stroke-width="1"/>
<circle cx="484.85" cy="319.3" r="1.75" fill="#0d8a0d" stroke="none" stroke-width="1"/>
<circle cx="493.54" cy="319.3" r="1.75" fill="#0d8a0d" stroke="none" stroke-width="1"/>
<circle cx="502.23" cy="319.3" r="1.75" fill="#0d8a0d" stroke="none" stroke-width="1"/>
<circle cx="510.92" cy="319.3" r="1.75" fill="#0d8a0d" stroke="none" stroke-width="1"/>
<circle cx="519.61" cy="319.3" r="1.75" fill="#0d8a0d" stroke="none" stroke-width="1"/>
<circle cx="528.3" cy="319.3" r="1.75" fill="#0d8a0d" stroke="none" stroke-width="1"/>
<circle cx="536.99" cy="319.3" r="1.75" fill="#0d8a0d" stroke="none" stroke-width="1"/>
<text x="253.3" y="340.4" font-size="8.33" text-anchor="end" fill="#262626">Dorado</text>
<line x1="267.6" y1="337.4" x2="536.99" y2="337.4" stroke="#0d8a0d" stroke-width="1.5"/>
<circle cx="267.6" cy="337.4" r="1.75" fill="#0d8a0d" stroke="none" stroke-width="1"/>
<circle cx="276.29" cy="337.4" r="1.75" fill="#0d8a0d" stroke="none" stroke-width="1"/>
<circle cx="284.98" cy="337.4" r="1.75" fill="#0d8a0d" stroke="none" stroke-width="1"/>
<circle cx="293.67" cy="337.4" r="1.75" fill="#0d8a0d" stroke="none" stroke-width="1"/>
<circle cx="302.36" cy="337.4" r="1.75" fill="#0d8a0d" stroke="none" stroke-width="1"/>
<circle cx="311.05" cy="337.4" r="2.45" fill="none" stroke="#222" stroke-width="0.8"/>
<circle cx="319.74" cy="337.4" r="1.75" fill="#0d8a0d" stroke="none" stroke-width="1"/>
<circle cx="328.43" cy="337.4" r="1.75" fill="#0d8a0d" stroke="none" stroke-width="1"/>
<circle cx="337.12" cy="337.4" r="1.75" fill="#0d8a0d" stroke="none" stroke-width="1"/>
<circle cx="345.81" cy="337.4" r="1.75" fill="#0d8a0d" stroke="none" stroke-width="1"/>
<circle cx="354.5" cy="337.4" r="2.45" fill="none" stroke="#222" stroke-width="0.8"/>
<circle cx="363.19" cy="337.4" r="1.75" fill="#0d8a0d" stroke="none" stroke-width="1"/>
<circle cx="371.88" cy="337.4" r="1.75" fill="#0d8a0d" stroke="none" stroke-width="1"/>
<circle cx="380.57" cy="337.4" r="2.45" fill="none" stroke="#222" stroke-width="0.8"/>
<circle cx="389.26" cy="337.4" r="2.45" fill="none" stroke="#222" stroke-width="0.8"/>
<circle cx="397.95" cy="337.4" r="2.45" fill="none" stroke="#222" stroke-width="0.8"/>
<circle cx="406.64" cy="337.4" r="1.75" fill="#0d8a0d" stroke="none" stroke-width="1"/>
<circle cx="415.33" cy="337.4" r="2.45" fill="none" stroke="#222" stroke-width="0.8"/>
<circle cx="424.02" cy="337.4" r="1.75" fill="#0d8a0d" stroke="none" stroke-width="1"/>
<circle cx="432.71" cy="337.4" r="2.45" fill="none" stroke="#222" stroke-width="0.8"/>
<circle cx="441.4" cy="337.4" r="1.75" fill="#0d8a0d" stroke="none" stroke-width="1"/>
<circle cx="450.09" cy="337.4" r="1.75" fill="#0d8a0d" stroke="none" stroke-width="1"/>
<circle cx="458.78" cy="337.4" r="1.75" fill="#0d8a0d" stroke="none" stroke-width="1"/>
<circle cx="467.47" cy="337.4" r="1.75" fill="#0d8a0d" stroke="none" stroke-width="1"/>
<circle cx="476.16" cy="337.4" r="2.45" fill="none" stroke="#222" stroke-width="0.8"/>
<circle cx="484.85" cy="337.4" r="2.45" fill="none" stroke="#222" stroke-width="0.8"/>
<circle cx="493.54" cy="337.4" r="2.45" fill="none" stroke="#222" stroke-width="0.8"/>
<circle cx="502.23" cy="337.4" r="1.75" fill="#0d8a0d" stroke="none" stroke-width="1"/>
<circle cx="510.92" cy="337.4" r="1.75" fill="#0d8a0d" stroke="none" stroke-width="1"/>
<circle cx="519.61" cy="337.4" r="1.75" fill="#0d8a0d" stroke="none" stroke-width="1"/>
<circle cx="528.3" cy="337.4" r="2.45" fill="none" stroke="#222" stroke-width="0.8"/>
<circle cx="536.99" cy="337.4" r="1.75" fill="#0d8a0d" stroke="none" stroke-width="1"/>
<text x="253.3" y="358.5" font-size="8.33" text-anchor="end" fill="#262626">Coral</text>
<line x1="267.6" y1="355.5" x2="536.99" y2="355.5" stroke="#0d8a0d" stroke-width="1.5"/>
<circle cx="267.6" cy="355.5" r="1.75" fill="#0d8a0d" stroke="none" stroke-width="1"/>
<circle cx="276.29" cy="355.5" r="1.75" fill="#0d8a0d" stroke="none" stroke-width="1"/>
<circle cx="284.98" cy="355.5" r="1.75" fill="#0d8a0d" stroke="none" stroke-width="1"/>
<circle cx="293.67" cy="355.5" r="1.75" fill="#0d8a0d" stroke="none" stroke-width="1"/>
<circle cx="302.36" cy="355.5" r="1.75" fill="#0d8a0d" stroke="none" stroke-width="1"/>
<circle cx="311.05" cy="355.5" r="1.75" fill="#0d8a0d" stroke="none" stroke-width="1"/>
<circle cx="319.74" cy="355.5" r="1.75" fill="#0d8a0d" stroke="none" stroke-width="1"/>
<circle cx="328.43" cy="355.5" r="1.75" fill="#0d8a0d" stroke="none" stroke-width="1"/>
<circle cx="337.12" cy="355.5" r="1.75" fill="#0d8a0d" stroke="none" stroke-width="1"/>
<circle cx="345.81" cy="355.5" r="1.75" fill="#0d8a0d" stroke="none" stroke-width="1"/>
<circle cx="354.5" cy="355.5" r="1.75" fill="#0d8a0d" stroke="none" stroke-width="1"/>
<circle cx="363.19" cy="355.5" r="1.75" fill="#0d8a0d" stroke="none" stroke-width="1"/>
<circle cx="371.88" cy="355.5" r="1.75" fill="#0d8a0d" stroke="none" stroke-width="1"/>
<circle cx="380.57" cy="355.5" r="1.75" fill="#0d8a0d" stroke="none" stroke-width="1"/>
<circle cx="389.26" cy="355.5" r="1.75" fill="#0d8a0d" stroke="none" stroke-width="1"/>
<circle cx="397.95" cy="355.5" r="1.75" fill="#0d8a0d" stroke="none" stroke-width="1"/>
<circle cx="406.64" cy="355.5" r="1.75" fill="#0d8a0d" stroke="none" stroke-width="1"/>
<circle cx="415.33" cy="355.5" r="1.75" fill="#0d8a0d" stroke="none" stroke-width="1"/>
<circle cx="424.02" cy="355.5" r="1.75" fill="#0d8a0d" stroke="none" stroke-width="1"/>
<circle cx="432.71" cy="355.5" r="1.75" fill="#0d8a0d" stroke="none" stroke-width="1"/>
<circle cx="441.4" cy="355.5" r="1.75" fill="#0d8a0d" stroke="none" stroke-width="1"/>
<circle cx="450.09" cy="355.5" r="1.75" fill="#0d8a0d" stroke="none" stroke-width="1"/>
<circle cx="458.78" cy="355.5" r="1.75" fill="#0d8a0d" stroke="none" stroke-width="1"/>
<circle cx="467.47" cy="355.5" r="1.75" fill="#0d8a0d" stroke="none" stroke-width="1"/>
<circle cx="476.16" cy="355.5" r="1.75" fill="#0d8a0d" stroke="none" stroke-width="1"/>
<circle cx="484.85" cy="355.5" r="1.75" fill="#0d8a0d" stroke="none" stroke-width="1"/>
<circle cx="493.54" cy="355.5" r="1.75" fill="#0d8a0d" stroke="none" stroke-width="1"/>
<circle cx="502.23" cy="355.5" r="1.75" fill="#0d8a0d" stroke="none" stroke-width="1"/>
<circle cx="510.92" cy="355.5" r="1.75" fill="#0d8a0d" stroke="none" stroke-width="1"/>
<circle cx="519.61" cy="355.5" r="1.75" fill="#0d8a0d" stroke="none" stroke-width="1"/>
<circle cx="528.3" cy="355.5" r="1.75" fill="#0d8a0d" stroke="none" stroke-width="1"/>
<circle cx="536.99" cy="355.5" r="1.75" fill="#0d8a0d" stroke="none" stroke-width="1"/>
<text x="270.3" y="268" font-size="8.33" fill="#262626" transform="rotate(-90 270.3 268)">27397583</text>
<text x="278.99" y="268" font-size="8.33" fill="#262626" transform="rotate(-90 278.99 268)">27397611</text>
<text x="287.68" y="268" font-size="8.33" fill="#262626" transform="rotate(-90 287.68 268)">27397629</text>
<text x="296.37" y="268" font-size="8.33" fill="#262626" transform="rotate(-90 296.37 268)">27397746</text>
<text x="305.06" y="268" font-size="8.33" fill="#262626" transform="rotate(-90 305.06 268)">27404849</text>
<text x="313.75" y="268" font-size="8.33" fill="#262626" transform="rotate(-90 313.75 268)">27405657</text>
<text x="322.44" y="268" font-size="8.33" fill="#262626" transform="rotate(-90 322.44 268)">27406383</text>
<text x="331.13" y="268" font-size="8.33" fill="#262626" transform="rotate(-90 331.13 268)">27406728</text>
<text x="339.82" y="268" font-size="8.33" fill="#262626" transform="rotate(-90 339.82 268)">27407854</text>
<text x="348.51" y="268" font-size="8.33" fill="#262626" transform="rotate(-90 348.51 268)">27407959</text>
<text x="357.2" y="268" font-size="8.33" fill="#262626" transform="rotate(-90 357.2 268)">27408370</text>
<text x="365.89" y="268" font-size="8.33" fill="#262626" transform="rotate(-90 365.89 268)">27420020</text>
<text x="374.58" y="268" font-size="8.33" fill="#262626" transform="rotate(-90 374.58 268)">27440892</text>
<text x="383.27" y="268" font-size="8.33" fill="#262626" transform="rotate(-90 383.27 268)">27441570</text>
<text x="391.96" y="268" font-size="8.33" fill="#262626" transform="rotate(-90 391.96 268)">27441894</text>
<text x="400.65" y="268" font-size="8.33" fill="#262626" transform="rotate(-90 400.65 268)">27441952</text>
<text x="409.34" y="268" font-size="8.33" fill="#262626" transform="rotate(-90 409.34 268)">27442036</text>
<text x="418.03" y="268" font-size="8.33" fill="#262626" transform="rotate(-90 418.03 268)">27442136</text>
<text x="426.72" y="268" font-size="8.33" fill="#262626" transform="rotate(-90 426.72 268)">27442418</text>
<text x="435.41" y="268" font-size="8.33" fill="#262626" transform="rotate(-90 435.41 268)">27442571</text>
<text x="444.1" y="268" font-size="8.33" fill="#262626" transform="rotate(-90 444.1 268)">27442604</text>
<text x="452.79" y="268" font-size="8.33" fill="#262626" transform="rotate(-90 452.79 268)">27445388</text>
<text x="461.48" y="268" font-size="8.33" fill="#262626" transform="rotate(-90 461.48 268)">27448586</text>
<text x="470.17" y="268" font-size="8.33" fill="#262626" transform="rotate(-90 470.17 268)">27448642</text>
<text x="478.86" y="268" font-size="8.33" fill="#262626" transform="rotate(-90 478.86 268)">27449034</text>
<text x="487.55" y="268" font-size="8.33" fill="#262626" transform="rotate(-90 487.55 268)">27449555</text>
<text x="496.24" y="268" font-size="8.33" fill="#262626" transform="rotate(-90 496.24 268)">27449758</text>
<text x="504.93" y="268" font-size="8.33" fill="#262626" transform="rotate(-90 504.93 268)">27450005</text>
<text x="513.62" y="268" font-size="8.33" fill="#262626" transform="rotate(-90 513.62 268)">27450487</text>
<text x="522.31" y="268" font-size="8.33" fill="#262626" transform="rotate(-90 522.31 268)">27451068</text>
<text x="531" y="268" font-size="8.33" fill="#262626" transform="rotate(-90 531 268)">27451822</text>
<text x="539.69" y="268" font-size="8.33" fill="#262626" transform="rotate(-90 539.69 268)">27458600</text>
<text x="211.2" y="319.35" font-size="8.33" text-anchor="middle" fill="#262626" transform="rotate(-90 211.2 319.35)"><tspan font-style="italic">PTK2B</tspan> (chr8)</text>
<text x="614.6" y="286.2" font-size="8.33" text-anchor="end" fill="#262626">Guppy</text>
<line x1="628.4" y1="283.2" x2="646.35" y2="283.2" stroke="#0d8a0d" stroke-width="1.5"/>
<circle cx="628.4" cy="283.2" r="1.75" fill="#0d8a0d" stroke="none" stroke-width="1"/>
<circle cx="646.35" cy="283.2" r="1.75" fill="#0d8a0d" stroke="none" stroke-width="1"/>
<circle cx="664.3" cy="283.2" r="2.45" fill="none" stroke="#222" stroke-width="0.8"/>
<circle cx="682.25" cy="283.2" r="2.45" fill="none" stroke="#222" stroke-width="0.8"/>
<text x="614.6" y="304.2" font-size="8.33" text-anchor="end" fill="#262626">RODAN</text>
<line x1="664.3" y1="301.2" x2="682.25" y2="301.2" stroke="#0d8a0d" stroke-width="1.5"/>
<circle cx="628.4" cy="301.2" r="2.45" fill="none" stroke="#222" stroke-width="0.8"/>
<circle cx="646.35" cy="301.2" r="2.45" fill="none" stroke="#222" stroke-width="0.8"/>
<circle cx="664.3" cy="301.2" r="1.75" fill="#0d8a0d" stroke="none" stroke-width="1"/>
<circle cx="682.25" cy="301.2" r="1.75" fill="#0d8a0d" stroke="none" stroke-width="1"/>
<text x="614.6" y="322.3" font-size="8.33" text-anchor="end" fill="#262626">GCRT<tspan dx="-0.5">call</tspan></text>
<line x1="628.4" y1="319.3" x2="646.35" y2="319.3" stroke="#0d8a0d" stroke-width="1.5"/>
<line x1="664.3" y1="319.3" x2="682.25" y2="319.3" stroke="#b22a2a" stroke-width="1.5"/>
<circle cx="628.4" cy="319.3" r="1.75" fill="#0d8a0d" stroke="none" stroke-width="1"/>
<circle cx="646.35" cy="319.3" r="1.75" fill="#0d8a0d" stroke="none" stroke-width="1"/>
<circle cx="664.3" cy="319.3" r="1.75" fill="#b22a2a" stroke="none" stroke-width="1"/>
<circle cx="682.25" cy="319.3" r="1.75" fill="#b22a2a" stroke="none" stroke-width="1"/>
<text x="614.6" y="340.4" font-size="8.33" text-anchor="end" fill="#262626">Dorado</text>
<line x1="664.3" y1="337.4" x2="682.25" y2="337.4" stroke="#0d8a0d" stroke-width="1.5"/>
<circle cx="628.4" cy="337.4" r="2.45" fill="none" stroke="#222" stroke-width="0.8"/>
<circle cx="646.35" cy="337.4" r="2.45" fill="none" stroke="#222" stroke-width="0.8"/>
<circle cx="664.3" cy="337.4" r="1.75" fill="#0d8a0d" stroke="none" stroke-width="1"/>
<circle cx="682.25" cy="337.4" r="1.75" fill="#0d8a0d" stroke="none" stroke-width="1"/>
<text x="614.6" y="358.5" font-size="8.33" text-anchor="end" fill="#262626">Coral</text>
<line x1="628.4" y1="355.5" x2="646.35" y2="355.5" stroke="#0d8a0d" stroke-width="1.5"/>
<line x1="664.3" y1="355.5" x2="682.25" y2="355.5" stroke="#b22a2a" stroke-width="1.5"/>
<circle cx="628.4" cy="355.5" r="1.75" fill="#0d8a0d" stroke="none" stroke-width="1"/>
<circle cx="646.35" cy="355.5" r="1.75" fill="#0d8a0d" stroke="none" stroke-width="1"/>
<circle cx="664.3" cy="355.5" r="1.75" fill="#b22a2a" stroke="none" stroke-width="1"/>
<circle cx="682.25" cy="355.5" r="1.75" fill="#b22a2a" stroke="none" stroke-width="1"/>
<text x="631.1" y="268" font-size="8.33" fill="#262626" transform="rotate(-90 631.1 268)">93671121</text>
<text x="649.05" y="268" font-size="8.33" fill="#262626" transform="rotate(-90 649.05 268)">93671752</text>
<text x="667" y="268" font-size="8.33" fill="#262626" transform="rotate(-90 667 268)">93694924</text>
<text x="684.95" y="268" font-size="8.33" fill="#262626" transform="rotate(-90 684.95 268)">93698384</text>
<text x="572.5" y="319.35" font-size="8.33" text-anchor="middle" fill="#262626" transform="rotate(-90 572.5 319.35)"><tspan font-style="italic">FRA10AC1</tspan> (chr10)</text>
<text x="59.9" y="427.5" font-size="8.33" text-anchor="end" fill="#262626">Guppy</text>
<line x1="101.78" y1="424.5" x2="321.2" y2="424.5" stroke="#0d8a0d" stroke-width="1.5"/>
<circle cx="77.4" cy="424.5" r="2.45" fill="none" stroke="#222" stroke-width="0.8"/>
<circle cx="89.59" cy="424.5" r="2.45" fill="none" stroke="#222" stroke-width="0.8"/>
<circle cx="101.78" cy="424.5" r="1.75" fill="#0d8a0d" stroke="none" stroke-width="1"/>
<circle cx="113.97" cy="424.5" r="1.75" fill="#0d8a0d" stroke="none" stroke-width="1"/>
<circle cx="126.16" cy="424.5" r="1.75" fill="#0d8a0d" stroke="none" stroke-width="1"/>
<circle cx="138.35" cy="424.5" r="1.75" fill="#0d8a0d" stroke="none" stroke-width="1"/>
<circle cx="150.54" cy="424.5" r="1.75" fill="#0d8a0d" stroke="none" stroke-width="1"/>
<circle cx="162.73" cy="424.5" r="1.75" fill="#0d8a0d" stroke="none" stroke-width="1"/>
<circle cx="174.92" cy="424.5" r="2.45" fill="none" stroke="#222" stroke-width="0.8"/>
<circle cx="187.11" cy="424.5" r="1.75" fill="#0d8a0d" stroke="none" stroke-width="1"/>
<circle cx="199.3" cy="424.5" r="2.45" fill="none" stroke="#222" stroke-width="0.8"/>
<circle cx="211.49" cy="424.5" r="1.75" fill="#0d8a0d" stroke="none" stroke-width="1"/>
<circle cx="223.68" cy="424.5" r="2.45" fill="none" stroke="#222" stroke-width="0.8"/>
<circle cx="235.87" cy="424.5" r="2.45" fill="none" stroke="#222" stroke-width="0.8"/>
<circle cx="248.06" cy="424.5" r="2.45" fill="none" stroke="#222" stroke-width="0.8"/>
<circle cx="260.25" cy="424.5" r="2.45" fill="none" stroke="#222" stroke-width="0.8"/>
<circle cx="272.44" cy="424.5" r="2.45" fill="none" stroke="#222" stroke-width="0.8"/>
<circle cx="284.63" cy="424.5" r="2.45" fill="none" stroke="#222" stroke-width="0.8"/>
<circle cx="296.82" cy="424.5" r="2.45" fill="none" stroke="#222" stroke-width="0.8"/>
<circle cx="309.01" cy="424.5" r="2.45" fill="none" stroke="#222" stroke-width="0.8"/>
<circle cx="321.2" cy="424.5" r="1.75" fill="#0d8a0d" stroke="none" stroke-width="1"/>
<text x="59.9" y="445.6" font-size="8.33" text-anchor="end" fill="#262626">RODAN</text>
<line x1="77.4" y1="442.6" x2="260.25" y2="442.6" stroke="#0d8a0d" stroke-width="1.5"/>
<circle cx="77.4" cy="442.6" r="1.75" fill="#0d8a0d" stroke="none" stroke-width="1"/>
<circle cx="89.59" cy="442.6" r="2.45" fill="none" stroke="#222" stroke-width="0.8"/>
<circle cx="101.78" cy="442.6" r="1.75" fill="#0d8a0d" stroke="none" stroke-width="1"/>
<circle cx="113.97" cy="442.6" r="1.75" fill="#0d8a0d" stroke="none" stroke-width="1"/>
<circle cx="126.16" cy="442.6" r="2.45" fill="none" stroke="#222" stroke-width="0.8"/>
<circle cx="138.35" cy="442.6" r="1.75" fill="#0d8a0d" stroke="none" stroke-width="1"/>
<circle cx="150.54" cy="442.6" r="1.75" fill="#0d8a0d" stroke="none" stroke-width="1"/>
<circle cx="162.73" cy="442.6" r="1.75" fill="#0d8a0d" stroke="none" stroke-width="1"/>
<circle cx="174.92" cy="442.6" r="2.45" fill="none" stroke="#222" stroke-width="0.8"/>
<circle cx="187.11" cy="442.6" r="2.45" fill="none" stroke="#222" stroke-width="0.8"/>
<circle cx="199.3" cy="442.6" r="2.45" fill="none" stroke="#222" stroke-width="0.8"/>
<circle cx="211.49" cy="442.6" r="1.75" fill="#0d8a0d" stroke="none" stroke-width="1"/>
<circle cx="223.68" cy="442.6" r="2.45" fill="none" stroke="#222" stroke-width="0.8"/>
<circle cx="235.87" cy="442.6" r="2.45" fill="none" stroke="#222" stroke-width="0.8"/>
<circle cx="248.06" cy="442.6" r="1.75" fill="#0d8a0d" stroke="none" stroke-width="1"/>
<circle cx="260.25" cy="442.6" r="1.75" fill="#0d8a0d" stroke="none" stroke-width="1"/>
<circle cx="272.44" cy="442.6" r="2.45" fill="none" stroke="#222" stroke-width="0.8"/>
<circle cx="284.63" cy="442.6" r="2.45" fill="none" stroke="#222" stroke-width="0.8"/>
<circle cx="296.82" cy="442.6" r="2.45" fill="none" stroke="#222" stroke-width="0.8"/>
<circle cx="309.01" cy="442.6" r="2.45" fill="none" stroke="#222" stroke-width="0.8"/>
<circle cx="321.2" cy="442.6" r="2.45" fill="none" stroke="#222" stroke-width="0.8"/>
<text x="59.9" y="463.7" font-size="8.33" text-anchor="end" fill="#262626">GCRT<tspan dx="-0.5">call</tspan></text>
<line x1="77.4" y1="460.7" x2="113.97" y2="460.7" stroke="#0d8a0d" stroke-width="1.5"/>
<line x1="113.97" y1="460.7" x2="199.3" y2="460.7" stroke="#b22a2a" stroke-width="1.5"/>
<line x1="199.3" y1="460.7" x2="321.2" y2="460.7" stroke="#0d8a0d" stroke-width="1.5"/>
<circle cx="77.4" cy="460.7" r="1.75" fill="#0d8a0d" stroke="none" stroke-width="1"/>
<circle cx="89.59" cy="460.7" r="1.75" fill="#0d8a0d" stroke="none" stroke-width="1"/>
<circle cx="101.78" cy="460.7" r="2.45" fill="none" stroke="#222" stroke-width="0.8"/>
<circle cx="113.97" cy="460.7" r="1.75" fill="#b22a2a" stroke="none" stroke-width="1"/>
<circle cx="126.16" cy="460.7" r="1.75" fill="#b22a2a" stroke="none" stroke-width="1"/>
<circle cx="138.35" cy="460.7" r="1.75" fill="#b22a2a" stroke="none" stroke-width="1"/>
<circle cx="150.54" cy="460.7" r="1.75" fill="#b22a2a" stroke="none" stroke-width="1"/>
<circle cx="162.73" cy="460.7" r="1.75" fill="#b22a2a" stroke="none" stroke-width="1"/>
<circle cx="174.92" cy="460.7" r="2.45" fill="none" stroke="#222" stroke-width="0.8"/>
<circle cx="187.11" cy="460.7" r="1.75" fill="#b22a2a" stroke="none" stroke-width="1"/>
<circle cx="199.3" cy="460.7" r="1.75" fill="#b22a2a" stroke="none" stroke-width="1"/>
<circle cx="211.49" cy="460.7" r="2.45" fill="none" stroke="#222" stroke-width="0.8"/>
<circle cx="223.68" cy="460.7" r="2.45" fill="none" stroke="#222" stroke-width="0.8"/>
<circle cx="235.87" cy="460.7" r="2.45" fill="none" stroke="#222" stroke-width="0.8"/>
<circle cx="248.06" cy="460.7" r="2.45" fill="none" stroke="#222" stroke-width="0.8"/>
<circle cx="260.25" cy="460.7" r="2.45" fill="none" stroke="#222" stroke-width="0.8"/>
<circle cx="272.44" cy="460.7" r="2.45" fill="none" stroke="#222" stroke-width="0.8"/>
<circle cx="284.63" cy="460.7" r="2.45" fill="none" stroke="#222" stroke-width="0.8"/>
<circle cx="296.82" cy="460.7" r="2.45" fill="none" stroke="#222" stroke-width="0.8"/>
<circle cx="309.01" cy="460.7" r="2.45" fill="none" stroke="#222" stroke-width="0.8"/>
<circle cx="321.2" cy="460.7" r="1.75" fill="#0d8a0d" stroke="none" stroke-width="1"/>
<text x="59.9" y="481.8" font-size="8.33" text-anchor="end" fill="#262626">Dorado</text>
<line x1="101.78" y1="478.8" x2="199.3" y2="478.8" stroke="#0d8a0d" stroke-width="1.5"/>
<circle cx="77.4" cy="478.8" r="2.45" fill="none" stroke="#222" stroke-width="0.8"/>
<circle cx="89.59" cy="478.8" r="2.45" fill="none" stroke="#222" stroke-width="0.8"/>
<circle cx="101.78" cy="478.8" r="1.75" fill="#0d8a0d" stroke="none" stroke-width="1"/>
<circle cx="113.97" cy="478.8" r="1.75" fill="#0d8a0d" stroke="none" stroke-width="1"/>
<circle cx="126.16" cy="478.8" r="2.45" fill="none" stroke="#222" stroke-width="0.8"/>
<circle cx="138.35" cy="478.8" r="1.75" fill="#0d8a0d" stroke="none" stroke-width="1"/>
<circle cx="150.54" cy="478.8" r="1.75" fill="#0d8a0d" stroke="none" stroke-width="1"/>
<circle cx="162.73" cy="478.8" r="2.45" fill="none" stroke="#222" stroke-width="0.8"/>
<circle cx="174.92" cy="478.8" r="2.45" fill="none" stroke="#222" stroke-width="0.8"/>
<circle cx="187.11" cy="478.8" r="1.75" fill="#0d8a0d" stroke="none" stroke-width="1"/>
<circle cx="199.3" cy="478.8" r="1.75" fill="#0d8a0d" stroke="none" stroke-width="1"/>
<circle cx="211.49" cy="478.8" r="2.45" fill="none" stroke="#222" stroke-width="0.8"/>
<circle cx="223.68" cy="478.8" r="2.45" fill="none" stroke="#222" stroke-width="0.8"/>
<circle cx="235.87" cy="478.8" r="2.45" fill="none" stroke="#222" stroke-width="0.8"/>
<circle cx="248.06" cy="478.8" r="2.45" fill="none" stroke="#222" stroke-width="0.8"/>
<circle cx="260.25" cy="478.8" r="2.45" fill="none" stroke="#222" stroke-width="0.8"/>
<circle cx="272.44" cy="478.8" r="2.45" fill="none" stroke="#222" stroke-width="0.8"/>
<circle cx="284.63" cy="478.8" r="2.45" fill="none" stroke="#222" stroke-width="0.8"/>
<circle cx="296.82" cy="478.8" r="2.45" fill="none" stroke="#222" stroke-width="0.8"/>
<circle cx="309.01" cy="478.8" r="2.45" fill="none" stroke="#222" stroke-width="0.8"/>
<circle cx="321.2" cy="478.8" r="2.45" fill="none" stroke="#222" stroke-width="0.8"/>
<text x="59.9" y="499.9" font-size="8.33" text-anchor="end" fill="#262626">Coral</text>
<line x1="77.4" y1="496.9" x2="321.2" y2="496.9" stroke="#0d8a0d" stroke-width="1.5"/>
<circle cx="77.4" cy="496.9" r="1.75" fill="#0d8a0d" stroke="none" stroke-width="1"/>
<circle cx="89.59" cy="496.9" r="1.75" fill="#0d8a0d" stroke="none" stroke-width="1"/>
<circle cx="101.78" cy="496.9" r="1.75" fill="#0d8a0d" stroke="none" stroke-width="1"/>
<circle cx="113.97" cy="496.9" r="1.75" fill="#0d8a0d" stroke="none" stroke-width="1"/>
<circle cx="126.16" cy="496.9" r="1.75" fill="#0d8a0d" stroke="none" stroke-width="1"/>
<circle cx="138.35" cy="496.9" r="1.75" fill="#0d8a0d" stroke="none" stroke-width="1"/>
<circle cx="150.54" cy="496.9" r="1.75" fill="#0d8a0d" stroke="none" stroke-width="1"/>
<circle cx="162.73" cy="496.9" r="1.75" fill="#0d8a0d" stroke="none" stroke-width="1"/>
<circle cx="174.92" cy="496.9" r="1.75" fill="#0d8a0d" stroke="none" stroke-width="1"/>
<circle cx="187.11" cy="496.9" r="1.75" fill="#0d8a0d" stroke="none" stroke-width="1"/>
<circle cx="199.3" cy="496.9" r="1.75" fill="#0d8a0d" stroke="none" stroke-width="1"/>
<circle cx="211.49" cy="496.9" r="1.75" fill="#0d8a0d" stroke="none" stroke-width="1"/>
<circle cx="223.68" cy="496.9" r="1.75" fill="#0d8a0d" stroke="none" stroke-width="1"/>
<circle cx="235.87" cy="496.9" r="1.75" fill="#0d8a0d" stroke="none" stroke-width="1"/>
<circle cx="248.06" cy="496.9" r="1.75" fill="#0d8a0d" stroke="none" stroke-width="1"/>
<circle cx="260.25" cy="496.9" r="1.75" fill="#0d8a0d" stroke="none" stroke-width="1"/>
<circle cx="272.44" cy="496.9" r="1.75" fill="#0d8a0d" stroke="none" stroke-width="1"/>
<circle cx="284.63" cy="496.9" r="1.75" fill="#0d8a0d" stroke="none" stroke-width="1"/>
<circle cx="296.82" cy="496.9" r="1.75" fill="#0d8a0d" stroke="none" stroke-width="1"/>
<circle cx="309.01" cy="496.9" r="1.75" fill="#0d8a0d" stroke="none" stroke-width="1"/>
<circle cx="321.2" cy="496.9" r="1.75" fill="#0d8a0d" stroke="none" stroke-width="1"/>
<text x="80.1" y="409.6" font-size="8.33" fill="#262626" transform="rotate(-90 80.1 409.6)">88296417</text>
<text x="92.29" y="409.6" font-size="8.33" fill="#262626" transform="rotate(-90 92.29 409.6)">88296449</text>
<text x="104.48" y="409.6" font-size="8.33" fill="#262626" transform="rotate(-90 104.48 409.6)">88321178</text>
<text x="116.67" y="409.6" font-size="8.33" fill="#262626" transform="rotate(-90 116.67 409.6)">88322621</text>
<text x="128.86" y="409.6" font-size="8.33" fill="#262626" transform="rotate(-90 128.86 409.6)">88322626</text>
<text x="141.05" y="409.6" font-size="8.33" fill="#262626" transform="rotate(-90 141.05 409.6)">88322962</text>
<text x="153.24" y="409.6" font-size="8.33" fill="#262626" transform="rotate(-90 153.24 409.6)">88323228</text>
<text x="165.43" y="409.6" font-size="8.33" fill="#262626" transform="rotate(-90 165.43 409.6)">88324087</text>
<text x="177.62" y="409.6" font-size="8.33" fill="#262626" transform="rotate(-90 177.62 409.6)">88326714</text>
<text x="189.81" y="409.6" font-size="8.33" fill="#262626" transform="rotate(-90 189.81 409.6)">88327032</text>
<text x="202" y="409.6" font-size="8.33" fill="#262626" transform="rotate(-90 202 409.6)">88327331</text>
<text x="214.19" y="409.6" font-size="8.33" fill="#262626" transform="rotate(-90 214.19 409.6)">88327569</text>
<text x="226.38" y="409.6" font-size="8.33" fill="#262626" transform="rotate(-90 226.38 409.6)">88331582</text>
<text x="238.57" y="409.6" font-size="8.33" fill="#262626" transform="rotate(-90 238.57 409.6)">88332259</text>
<text x="250.76" y="409.6" font-size="8.33" fill="#262626" transform="rotate(-90 250.76 409.6)">88333546</text>
<text x="262.95" y="409.6" font-size="8.33" fill="#262626" transform="rotate(-90 262.95 409.6)">88334226</text>
<text x="275.14" y="409.6" font-size="8.33" fill="#262626" transform="rotate(-90 275.14 409.6)">88334347</text>
<text x="287.33" y="409.6" font-size="8.33" fill="#262626" transform="rotate(-90 287.33 409.6)">88334586</text>
<text x="299.52" y="409.6" font-size="8.33" fill="#262626" transform="rotate(-90 299.52 409.6)">88334836</text>
<text x="311.71" y="409.6" font-size="8.33" fill="#262626" transform="rotate(-90 311.71 409.6)">88337690</text>
<text x="323.9" y="409.6" font-size="8.33" fill="#262626" transform="rotate(-90 323.9 409.6)">88337746</text>
<text x="18" y="460.7" font-size="8.33" text-anchor="middle" fill="#262626" transform="rotate(-90 18 460.7)"><tspan font-style="italic">CTSC</tspan> (chr11)</text>
<text x="408.3" y="427.5" font-size="8.33" text-anchor="end" fill="#262626">Guppy</text>
<line x1="468.85" y1="424.5" x2="667.51" y2="424.5" stroke="#0d8a0d" stroke-width="1.5"/>
<circle cx="423.7" cy="424.5" r="2.45" fill="none" stroke="#222" stroke-width="0.8"/>
<circle cx="432.73" cy="424.5" r="2.45" fill="none" stroke="#222" stroke-width="0.8"/>
<circle cx="441.76" cy="424.5" r="2.45" fill="none" stroke="#222" stroke-width="0.8"/>
<circle cx="450.79" cy="424.5" r="2.45" fill="none" stroke="#222" stroke-width="0.8"/>
<circle cx="459.82" cy="424.5" r="2.45" fill="none" stroke="#222" stroke-width="0.8"/>
<circle cx="468.85" cy="424.5" r="1.75" fill="#0d8a0d" stroke="none" stroke-width="1"/>
<circle cx="477.88" cy="424.5" r="1.75" fill="#0d8a0d" stroke="none" stroke-width="1"/>
<circle cx="486.91" cy="424.5" r="2.45" fill="none" stroke="#222" stroke-width="0.8"/>
<circle cx="495.94" cy="424.5" r="2.45" fill="none" stroke="#222" stroke-width="0.8"/>
<circle cx="504.97" cy="424.5" r="1.75" fill="#0d8a0d" stroke="none" stroke-width="1"/>
<circle cx="514" cy="424.5" r="1.75" fill="#0d8a0d" stroke="none" stroke-width="1"/>
<circle cx="523.03" cy="424.5" r="2.45" fill="none" stroke="#222" stroke-width="0.8"/>
<circle cx="532.06" cy="424.5" r="1.75" fill="#0d8a0d" stroke="none" stroke-width="1"/>
<circle cx="541.09" cy="424.5" r="1.75" fill="#0d8a0d" stroke="none" stroke-width="1"/>
<circle cx="550.12" cy="424.5" r="1.75" fill="#0d8a0d" stroke="none" stroke-width="1"/>
<circle cx="559.15" cy="424.5" r="1.75" fill="#0d8a0d" stroke="none" stroke-width="1"/>
<circle cx="568.18" cy="424.5" r="1.75" fill="#0d8a0d" stroke="none" stroke-width="1"/>
<circle cx="577.21" cy="424.5" r="1.75" fill="#0d8a0d" stroke="none" stroke-width="1"/>
<circle cx="586.24" cy="424.5" r="1.75" fill="#0d8a0d" stroke="none" stroke-width="1"/>
<circle cx="595.27" cy="424.5" r="1.75" fill="#0d8a0d" stroke="none" stroke-width="1"/>
<circle cx="604.3" cy="424.5" r="2.45" fill="none" stroke="#222" stroke-width="0.8"/>
<circle cx="613.33" cy="424.5" r="1.75" fill="#0d8a0d" stroke="none" stroke-width="1"/>
<circle cx="622.36" cy="424.5" r="1.75" fill="#0d8a0d" stroke="none" stroke-width="1"/>
<circle cx="631.39" cy="424.5" r="1.75" fill="#0d8a0d" stroke="none" stroke-width="1"/>
<circle cx="640.42" cy="424.5" r="2.45" fill="none" stroke="#222" stroke-width="0.8"/>
<circle cx="649.45" cy="424.5" r="1.75" fill="#0d8a0d" stroke="none" stroke-width="1"/>
<circle cx="658.48" cy="424.5" r="1.75" fill="#0d8a0d" stroke="none" stroke-width="1"/>
<circle cx="667.51" cy="424.5" r="1.75" fill="#0d8a0d" stroke="none" stroke-width="1"/>
<text x="408.3" y="445.6" font-size="8.33" text-anchor="end" fill="#262626">RODAN</text>
<line x1="423.7" y1="442.6" x2="658.48" y2="442.6" stroke="#0d8a0d" stroke-width="1.5"/>
<circle cx="423.7" cy="442.6" r="1.75" fill="#0d8a0d" stroke="none" stroke-width="1"/>
<circle cx="432.73" cy="442.6" r="2.45" fill="none" stroke="#222" stroke-width="0.8"/>
<circle cx="441.76" cy="442.6" r="1.75" fill="#0d8a0d" stroke="none" stroke-width="1"/>
<circle cx="450.79" cy="442.6" r="1.75" fill="#0d8a0d" stroke="none" stroke-width="1"/>
<circle cx="459.82" cy="442.6" r="1.75" fill="#0d8a0d" stroke="none" stroke-width="1"/>
<circle cx="468.85" cy="442.6" r="1.75" fill="#0d8a0d" stroke="none" stroke-width="1"/>
<circle cx="477.88" cy="442.6" r="1.75" fill="#0d8a0d" stroke="none" stroke-width="1"/>
<circle cx="486.91" cy="442.6" r="2.45" fill="none" stroke="#222" stroke-width="0.8"/>
<circle cx="495.94" cy="442.6" r="2.45" fill="none" stroke="#222" stroke-width="0.8"/>
<circle cx="504.97" cy="442.6" r="1.75" fill="#0d8a0d" stroke="none" stroke-width="1"/>
<circle cx="514" cy="442.6" r="1.75" fill="#0d8a0d" stroke="none" stroke-width="1"/>
<circle cx="523.03" cy="442.6" r="2.45" fill="none" stroke="#222" stroke-width="0.8"/>
<circle cx="532.06" cy="442.6" r="1.75" fill="#0d8a0d" stroke="none" stroke-width="1"/>
<circle cx="541.09" cy="442.6" r="1.75" fill="#0d8a0d" stroke="none" stroke-width="1"/>
<circle cx="550.12" cy="442.6" r="1.75" fill="#0d8a0d" stroke="none" stroke-width="1"/>
<circle cx="559.15" cy="442.6" r="2.45" fill="none" stroke="#222" stroke-width="0.8"/>
<circle cx="568.18" cy="442.6" r="2.45" fill="none" stroke="#222" stroke-width="0.8"/>
<circle cx="577.21" cy="442.6" r="1.75" fill="#0d8a0d" stroke="none" stroke-width="1"/>
<circle cx="586.24" cy="442.6" r="1.75" fill="#0d8a0d" stroke="none" stroke-width="1"/>
<circle cx="595.27" cy="442.6" r="1.75" fill="#0d8a0d" stroke="none" stroke-width="1"/>
<circle cx="604.3" cy="442.6" r="1.75" fill="#0d8a0d" stroke="none" stroke-width="1"/>
<circle cx="613.33" cy="442.6" r="2.45" fill="none" stroke="#222" stroke-width="0.8"/>
<circle cx="622.36" cy="442.6" r="1.75" fill="#0d8a0d" stroke="none" stroke-width="1"/>
<circle cx="631.39" cy="442.6" r="1.75" fill="#0d8a0d" stroke="none" stroke-width="1"/>
<circle cx="640.42" cy="442.6" r="2.45" fill="none" stroke="#222" stroke-width="0.8"/>
<circle cx="649.45" cy="442.6" r="1.75" fill="#0d8a0d" stroke="none" stroke-width="1"/>
<circle cx="658.48" cy="442.6" r="1.75" fill="#0d8a0d" stroke="none" stroke-width="1"/>
<circle cx="667.51" cy="442.6" r="2.45" fill="none" stroke="#222" stroke-width="0.8"/>
<text x="408.3" y="463.7" font-size="8.33" text-anchor="end" fill="#262626">GCRT<tspan dx="-0.5">call</tspan></text>
<line x1="423.7" y1="460.7" x2="667.51" y2="460.7" stroke="#0d8a0d" stroke-width="1.5"/>
<circle cx="423.7" cy="460.7" r="1.75" fill="#0d8a0d" stroke="none" stroke-width="1"/>
<circle cx="432.73" cy="460.7" r="1.75" fill="#0d8a0d" stroke="none" stroke-width="1"/>
<circle cx="441.76" cy="460.7" r="1.75" fill="#0d8a0d" stroke="none" stroke-width="1"/>
<circle cx="450.79" cy="460.7" r="1.75" fill="#0d8a0d" stroke="none" stroke-width="1"/>
<circle cx="459.82" cy="460.7" r="1.75" fill="#0d8a0d" stroke="none" stroke-width="1"/>
<circle cx="468.85" cy="460.7" r="1.75" fill="#0d8a0d" stroke="none" stroke-width="1"/>
<circle cx="477.88" cy="460.7" r="1.75" fill="#0d8a0d" stroke="none" stroke-width="1"/>
<circle cx="486.91" cy="460.7" r="1.75" fill="#0d8a0d" stroke="none" stroke-width="1"/>
<circle cx="495.94" cy="460.7" r="2.45" fill="none" stroke="#222" stroke-width="0.8"/>
<circle cx="504.97" cy="460.7" r="1.75" fill="#0d8a0d" stroke="none" stroke-width="1"/>
<circle cx="514" cy="460.7" r="2.45" fill="none" stroke="#222" stroke-width="0.8"/>
<circle cx="523.03" cy="460.7" r="2.45" fill="none" stroke="#222" stroke-width="0.8"/>
<circle cx="532.06" cy="460.7" r="1.75" fill="#0d8a0d" stroke="none" stroke-width="1"/>
<circle cx="541.09" cy="460.7" r="1.75" fill="#0d8a0d" stroke="none" stroke-width="1"/>
<circle cx="550.12" cy="460.7" r="1.75" fill="#0d8a0d" stroke="none" stroke-width="1"/>
<circle cx="559.15" cy="460.7" r="1.75" fill="#0d8a0d" stroke="none" stroke-width="1"/>
<circle cx="568.18" cy="460.7" r="2.45" fill="none" stroke="#222" stroke-width="0.8"/>
<circle cx="577.21" cy="460.7" r="1.75" fill="#0d8a0d" stroke="none" stroke-width="1"/>
<circle cx="586.24" cy="460.7" r="1.75" fill="#0d8a0d" stroke="none" stroke-width="1"/>
<circle cx="595.27" cy="460.7" r="1.75" fill="#0d8a0d" stroke="none" stroke-width="1"/>
<circle cx="604.3" cy="460.7" r="2.45" fill="none" stroke="#222" stroke-width="0.8"/>
<circle cx="613.33" cy="460.7" r="2.45" fill="none" stroke="#222" stroke-width="0.8"/>
<circle cx="622.36" cy="460.7" r="1.75" fill="#0d8a0d" stroke="none" stroke-width="1"/>
<circle cx="631.39" cy="460.7" r="1.75" fill="#0d8a0d" stroke="none" stroke-width="1"/>
<circle cx="640.42" cy="460.7" r="1.75" fill="#0d8a0d" stroke="none" stroke-width="1"/>
<circle cx="649.45" cy="460.7" r="1.75" fill="#0d8a0d" stroke="none" stroke-width="1"/>
<circle cx="658.48" cy="460.7" r="1.75" fill="#0d8a0d" stroke="none" stroke-width="1"/>
<circle cx="667.51" cy="460.7" r="1.75" fill="#0d8a0d" stroke="none" stroke-width="1"/>
<text x="408.3" y="481.8" font-size="8.33" text-anchor="end" fill="#262626">Dorado</text>
<line x1="423.7" y1="478.8" x2="595.27" y2="478.8" stroke="#0d8a0d" stroke-width="1.5"/>
<circle cx="423.7" cy="478.8" r="1.75" fill="#0d8a0d" stroke="none" stroke-width="1"/>
<circle cx="432.73" cy="478.8" r="2.45" fill="none" stroke="#222" stroke-width="0.8"/>
<circle cx="441.76" cy="478.8" r="1.75" fill="#0d8a0d" stroke="none" stroke-width="1"/>
<circle cx="450.79" cy="478.8" r="1.75" fill="#0d8a0d" stroke="none" stroke-width="1"/>
<circle cx="459.82" cy="478.8" r="1.75" fill="#0d8a0d" stroke="none" stroke-width="1"/>
<circle cx="468.85" cy="478.8" r="1.75" fill="#0d8a0d" stroke="none" stroke-width="1"/>
<circle cx="477.88" cy="478.8" r="1.75" fill="#0d8a0d" stroke="none" stroke-width="1"/>
<circle cx="486.91" cy="478.8" r="1.75" fill="#0d8a0d" stroke="none" stroke-width="1"/>
<circle cx="495.94" cy="478.8" r="2.45" fill="none" stroke="#222" stroke-width="0.8"/>
<circle cx="504.97" cy="478.8" r="1.75" fill="#0d8a0d" stroke="none" stroke-width="1"/>
<circle cx="514" cy="478.8" r="2.45" fill="none" stroke="#222" stroke-width="0.8"/>
<circle cx="523.03" cy="478.8" r="2.45" fill="none" stroke="#222" stroke-width="0.8"/>
<circle cx="532.06" cy="478.8" r="1.75" fill="#0d8a0d" stroke="none" stroke-width="1"/>
<circle cx="541.09" cy="478.8" r="1.75" fill="#0d8a0d" stroke="none" stroke-width="1"/>
<circle cx="550.12" cy="478.8" r="1.75" fill="#0d8a0d" stroke="none" stroke-width="1"/>
<circle cx="559.15" cy="478.8" r="2.45" fill="none" stroke="#222" stroke-width="0.8"/>
<circle cx="568.18" cy="478.8" r="2.45" fill="none" stroke="#222" stroke-width="0.8"/>
<circle cx="577.21" cy="478.8" r="1.75" fill="#0d8a0d" stroke="none" stroke-width="1"/>
<circle cx="586.24" cy="478.8" r="1.75" fill="#0d8a0d" stroke="none" stroke-width="1"/>
<circle cx="595.27" cy="478.8" r="1.75" fill="#0d8a0d" stroke="none" stroke-width="1"/>
<circle cx="604.3" cy="478.8" r="2.45" fill="none" stroke="#222" stroke-width="0.8"/>
<circle cx="613.33" cy="478.8" r="2.45" fill="none" stroke="#222" stroke-width="0.8"/>
<circle cx="622.36" cy="478.8" r="2.45" fill="none" stroke="#222" stroke-width="0.8"/>
<circle cx="631.39" cy="478.8" r="2.45" fill="none" stroke="#222" stroke-width="0.8"/>
<circle cx="640.42" cy="478.8" r="2.45" fill="none" stroke="#222" stroke-width="0.8"/>
<circle cx="649.45" cy="478.8" r="2.45" fill="none" stroke="#222" stroke-width="0.8"/>
<circle cx="658.48" cy="478.8" r="2.45" fill="none" stroke="#222" stroke-width="0.8"/>
<circle cx="667.51" cy="478.8" r="2.45" fill="none" stroke="#222" stroke-width="0.8"/>
<text x="408.3" y="499.9" font-size="8.33" text-anchor="end" fill="#262626">Coral</text>
<line x1="423.7" y1="496.9" x2="667.51" y2="496.9" stroke="#0d8a0d" stroke-width="1.5"/>
<circle cx="423.7" cy="496.9" r="1.75" fill="#0d8a0d" stroke="none" stroke-width="1"/>
<circle cx="432.73" cy="496.9" r="1.75" fill="#0d8a0d" stroke="none" stroke-width="1"/>
<circle cx="441.76" cy="496.9" r="1.75" fill="#0d8a0d" stroke="none" stroke-width="1"/>
<circle cx="450.79" cy="496.9" r="1.75" fill="#0d8a0d" stroke="none" stroke-width="1"/>
<circle cx="459.82" cy="496.9" r="1.75" fill="#0d8a0d" stroke="none" stroke-width="1"/>
<circle cx="468.85" cy="496.9" r="1.75" fill="#0d8a0d" stroke="none" stroke-width="1"/>
<circle cx="477.88" cy="496.9" r="1.75" fill="#0d8a0d" stroke="none" stroke-width="1"/>
<circle cx="486.91" cy="496.9" r="1.75" fill="#0d8a0d" stroke="none" stroke-width="1"/>
<circle cx="495.94" cy="496.9" r="1.75" fill="#0d8a0d" stroke="none" stroke-width="1"/>
<circle cx="504.97" cy="496.9" r="1.75" fill="#0d8a0d" stroke="none" stroke-width="1"/>
<circle cx="514" cy="496.9" r="1.75" fill="#0d8a0d" stroke="none" stroke-width="1"/>
<circle cx="523.03" cy="496.9" r="1.75" fill="#0d8a0d" stroke="none" stroke-width="1"/>
<circle cx="532.06" cy="496.9" r="1.75" fill="#0d8a0d" stroke="none" stroke-width="1"/>
<circle cx="541.09" cy="496.9" r="1.75" fill="#0d8a0d" stroke="none" stroke-width="1"/>
<circle cx="550.12" cy="496.9" r="1.75" fill="#0d8a0d" stroke="none" stroke-width="1"/>
<circle cx="559.15" cy="496.9" r="1.75" fill="#0d8a0d" stroke="none" stroke-width="1"/>
<circle cx="568.18" cy="496.9" r="2.45" fill="none" stroke="#222" stroke-width="0.8"/>
<circle cx="577.21" cy="496.9" r="1.75" fill="#0d8a0d" stroke="none" stroke-width="1"/>
<circle cx="586.24" cy="496.9" r="1.75" fill="#0d8a0d" stroke="none" stroke-width="1"/>
<circle cx="595.27" cy="496.9" r="1.75" fill="#0d8a0d" stroke="none" stroke-width="1"/>
<circle cx="604.3" cy="496.9" r="2.45" fill="none" stroke="#222" stroke-width="0.8"/>
<circle cx="613.33" cy="496.9" r="1.75" fill="#0d8a0d" stroke="none" stroke-width="1"/>
<circle cx="622.36" cy="496.9" r="1.75" fill="#0d8a0d" stroke="none" stroke-width="1"/>
<circle cx="631.39" cy="496.9" r="1.75" fill="#0d8a0d" stroke="none" stroke-width="1"/>
<circle cx="640.42" cy="496.9" r="1.75" fill="#0d8a0d" stroke="none" stroke-width="1"/>
<circle cx="649.45" cy="496.9" r="1.75" fill="#0d8a0d" stroke="none" stroke-width="1"/>
<circle cx="658.48" cy="496.9" r="1.75" fill="#0d8a0d" stroke="none" stroke-width="1"/>
<circle cx="667.51" cy="496.9" r="1.75" fill="#0d8a0d" stroke="none" stroke-width="1"/>
<text x="426.4" y="409.6" font-size="8.33" fill="#262626" transform="rotate(-90 426.4 409.6)">16923590</text>
<text x="435.43" y="409.6" font-size="8.33" fill="#262626" transform="rotate(-90 435.43 409.6)">16923706</text>
<text x="444.46" y="409.6" font-size="8.33" fill="#262626" transform="rotate(-90 444.46 409.6)">16925336</text>
<text x="453.49" y="409.6" font-size="8.33" fill="#262626" transform="rotate(-90 453.49 409.6)">16925397</text>
<text x="462.52" y="409.6" font-size="8.33" fill="#262626" transform="rotate(-90 462.52 409.6)">16925399</text>
<text x="471.55" y="409.6" font-size="8.33" fill="#262626" transform="rotate(-90 471.55 409.6)">16925476</text>
<text x="480.58" y="409.6" font-size="8.33" fill="#262626" transform="rotate(-90 480.58 409.6)">16925477</text>
<text x="489.61" y="409.6" font-size="8.33" fill="#262626" transform="rotate(-90 489.61 409.6)">16925490</text>
<text x="498.64" y="409.6" font-size="8.33" fill="#262626" transform="rotate(-90 498.64 409.6)">16926355</text>
<text x="507.67" y="409.6" font-size="8.33" fill="#262626" transform="rotate(-90 507.67 409.6)">16926605</text>
<text x="516.7" y="409.6" font-size="8.33" fill="#262626" transform="rotate(-90 516.7 409.6)">16926701</text>
<text x="525.73" y="409.6" font-size="8.33" fill="#262626" transform="rotate(-90 525.73 409.6)">16926835</text>
<text x="534.76" y="409.6" font-size="8.33" fill="#262626" transform="rotate(-90 534.76 409.6)">16926973</text>
<text x="543.79" y="409.6" font-size="8.33" fill="#262626" transform="rotate(-90 543.79 409.6)">16927096</text>
<text x="552.82" y="409.6" font-size="8.33" fill="#262626" transform="rotate(-90 552.82 409.6)">16928192</text>
<text x="561.85" y="409.6" font-size="8.33" fill="#262626" transform="rotate(-90 561.85 409.6)">16928246</text>
<text x="570.88" y="409.6" font-size="8.33" fill="#262626" transform="rotate(-90 570.88 409.6)">16928646</text>
<text x="579.91" y="409.6" font-size="8.33" fill="#262626" transform="rotate(-90 579.91 409.6)">16929263</text>
<text x="588.94" y="409.6" font-size="8.33" fill="#262626" transform="rotate(-90 588.94 409.6)">16929825</text>
<text x="597.97" y="409.6" font-size="8.33" fill="#262626" transform="rotate(-90 597.97 409.6)">16933111</text>
<text x="607" y="409.6" font-size="8.33" fill="#262626" transform="rotate(-90 607 409.6)">16934963</text>
<text x="616.03" y="409.6" font-size="8.33" fill="#262626" transform="rotate(-90 616.03 409.6)">16935371</text>
<text x="625.06" y="409.6" font-size="8.33" fill="#262626" transform="rotate(-90 625.06 409.6)">16937272</text>
<text x="634.09" y="409.6" font-size="8.33" fill="#262626" transform="rotate(-90 634.09 409.6)">16937575</text>
<text x="643.12" y="409.6" font-size="8.33" fill="#262626" transform="rotate(-90 643.12 409.6)">16937720</text>
<text x="652.15" y="409.6" font-size="8.33" fill="#262626" transform="rotate(-90 652.15 409.6)">16939374</text>
<text x="661.18" y="409.6" font-size="8.33" fill="#262626" transform="rotate(-90 661.18 409.6)">16939598</text>
<text x="670.21" y="409.6" font-size="8.33" fill="#262626" transform="rotate(-90 670.21 409.6)">16952564</text>
<text x="366.3" y="460.7" font-size="8.33" text-anchor="middle" fill="#262626" transform="rotate(-90 366.3 460.7)"><tspan font-style="italic">TNFRSF13B</tspan> (chr17)</text>
<text x="5.3" y="525.6" font-size="10.5" fill="#000" font-weight="bold">d</text>
<clipPath id="cd"><rect x="47.9" y="553.2" width="269.70000000000005" height="136.39999999999998"/></clipPath>
<g clip-path="url(#cd)">
<polygon points="60.2,673.21 84.66,631.76 109.12,604.58 133.58,587.46 158.04,575.3 182.5,568.39 206.96,564.94 231.42,559.83 255.88,561.94 280.34,561.33 304.8,560.73 304.8,567.34 280.34,567.94 255.88,568.54 231.42,567.34 206.96,571.85 182.5,575.3 158.04,582.81 133.58,595.57 109.12,613.59 84.66,642.58 60.2,684.62" stroke="none" stroke-width="1" fill="#1f77b4" fill-opacity="0.2" stroke="#1f77b4" stroke-opacity="0.25" stroke-width="0.8"/>
<line x1="73.07" y1="689.6" x2="73.07" y2="553.2" stroke="#f5b43c" stroke-width="1.55" stroke-dasharray="5.4,1.9"/>
<line x1="99.97" y1="689.6" x2="99.97" y2="553.2" stroke="#6e8cbe" stroke-width="1.55" stroke-dasharray="8.6,2.4,1.4,2.4"/>
<line x1="140.92" y1="689.6" x2="140.92" y2="553.2" stroke="#28bebe" stroke-width="1.55" stroke-dasharray="1.4,2.3"/>
<line x1="150.7" y1="689.6" x2="150.7" y2="553.2" stroke="#f07d32" stroke-width="1.55" stroke-dasharray="6.9,6.9"/>
<line x1="238.02" y1="689.6" x2="238.02" y2="553.2" stroke="#e1553c" stroke-width="1.55" stroke-dasharray="4.5,1.4,1.0,1.4"/>
<polyline points="60.2,678.92 84.66,637.17 109.12,609.09 133.58,591.52 158.04,579.05 182.5,571.85 206.96,568.39 231.42,563.59 255.88,565.24 280.34,564.64 304.8,564.04" stroke="#1f77b4" stroke-width="1.6" fill="none"/>
<circle cx="60.2" cy="678.92" r="2.9" fill="#1f77b4" stroke="#fff" stroke-width="0.7"/>
<circle cx="84.66" cy="637.17" r="2.9" fill="#1f77b4" stroke="#fff" stroke-width="0.7"/>
<circle cx="109.12" cy="609.09" r="2.9" fill="#1f77b4" stroke="#fff" stroke-width="0.7"/>
<circle cx="133.58" cy="591.52" r="2.9" fill="#1f77b4" stroke="#fff" stroke-width="0.7"/>
<circle cx="158.04" cy="579.05" r="2.9" fill="#1f77b4" stroke="#fff" stroke-width="0.7"/>
<circle cx="182.5" cy="571.85" r="2.9" fill="#1f77b4" stroke="#fff" stroke-width="0.7"/>
<circle cx="206.96" cy="568.39" r="2.9" fill="#1f77b4" stroke="#fff" stroke-width="0.7"/>
<circle cx="231.42" cy="563.59" r="2.9" fill="#1f77b4" stroke="#fff" stroke-width="0.7"/>
<circle cx="255.88" cy="565.24" r="2.9" fill="#1f77b4" stroke="#fff" stroke-width="0.7"/>
<circle cx="280.34" cy="564.64" r="2.9" fill="#1f77b4" stroke="#fff" stroke-width="0.7"/>
<circle cx="304.8" cy="564.04" r="2.9" fill="#1f77b4" stroke="#fff" stroke-width="0.7"/>
</g>
<rect x="47.9" y="553.2" width="269.7" height="136.4" rx="0" fill="none" stroke="#333" stroke-width="1.1"/>
<line x1="60.2" y1="689.6" x2="60.2" y2="692.6" stroke="#333" stroke-width="0.9"/>
<text x="60.2" y="703.9" font-size="8.33" text-anchor="middle" fill="#262626">89</text>
<line x1="84.66" y1="689.6" x2="84.66" y2="692.6" stroke="#333" stroke-width="0.9"/>
<text x="84.66" y="703.9" font-size="8.33" text-anchor="middle" fill="#262626">90</text>
<line x1="109.12" y1="689.6" x2="109.12" y2="692.6" stroke="#333" stroke-width="0.9"/>
<text x="109.12" y="703.9" font-size="8.33" text-anchor="middle" fill="#262626">91</text>
<line x1="133.58" y1="689.6" x2="133.58" y2="692.6" stroke="#333" stroke-width="0.9"/>
<text x="133.58" y="703.9" font-size="8.33" text-anchor="middle" fill="#262626">92</text>
<line x1="158.04" y1="689.6" x2="158.04" y2="692.6" stroke="#333" stroke-width="0.9"/>
<text x="158.04" y="703.9" font-size="8.33" text-anchor="middle" fill="#262626">93</text>
<line x1="182.5" y1="689.6" x2="182.5" y2="692.6" stroke="#333" stroke-width="0.9"/>
<text x="182.5" y="703.9" font-size="8.33" text-anchor="middle" fill="#262626">94</text>
<line x1="206.96" y1="689.6" x2="206.96" y2="692.6" stroke="#333" stroke-width="0.9"/>
<text x="206.96" y="703.9" font-size="8.33" text-anchor="middle" fill="#262626">95</text>
<line x1="231.42" y1="689.6" x2="231.42" y2="692.6" stroke="#333" stroke-width="0.9"/>
<text x="231.42" y="703.9" font-size="8.33" text-anchor="middle" fill="#262626">96</text>
<line x1="255.88" y1="689.6" x2="255.88" y2="692.6" stroke="#333" stroke-width="0.9"/>
<text x="255.88" y="703.9" font-size="8.33" text-anchor="middle" fill="#262626">97</text>
<line x1="280.34" y1="689.6" x2="280.34" y2="692.6" stroke="#333" stroke-width="0.9"/>
<text x="280.34" y="703.9" font-size="8.33" text-anchor="middle" fill="#262626">98</text>
<line x1="304.8" y1="689.6" x2="304.8" y2="692.6" stroke="#333" stroke-width="0.9"/>
<text x="304.8" y="703.9" font-size="8.33" text-anchor="middle" fill="#262626">99</text>
<line x1="44.9" y1="664.8" x2="47.9" y2="664.8" stroke="#333" stroke-width="0.9"/>
<text x="40.3" y="667.8" font-size="8.33" text-anchor="end" fill="#262626">0.82</text>
<line x1="44.9" y1="634.77" x2="47.9" y2="634.77" stroke="#333" stroke-width="0.9"/>
<text x="40.3" y="637.77" font-size="8.33" text-anchor="end" fill="#262626">0.84</text>
<line x1="44.9" y1="604.73" x2="47.9" y2="604.73" stroke="#333" stroke-width="0.9"/>
<text x="40.3" y="607.73" font-size="8.33" text-anchor="end" fill="#262626">0.86</text>
<line x1="44.9" y1="574.7" x2="47.9" y2="574.7" stroke="#333" stroke-width="0.9"/>
<text x="40.3" y="577.7" font-size="8.33" text-anchor="end" fill="#262626">0.88</text>
<text x="183" y="718.1" font-size="9.72" text-anchor="middle" fill="#262626">Simulated mean accuracy (%)</text>
<text x="16.4" y="621.5" font-size="9.72" text-anchor="middle" fill="#262626" transform="rotate(-90 16.4 621.5)">F1 score of discovered transcripts</text>
<rect x="38.5" y="520.4" width="287.7" height="27.2" rx="2" fill="#fff" stroke="#d6d6d6" stroke-width="0.8"/>
<text x="182.35" y="530.7" font-size="9.72" text-anchor="middle" fill="#262626">NA12878 mean accuracy</text>
<line x1="42" y1="540.2" x2="58.8" y2="540.2" stroke="#f5b43c" stroke-width="1.55" stroke-dasharray="5.4,1.9"/>
<text x="65.7" y="543.2" font-size="8.33" fill="#262626">Guppy</text>
<line x1="97.3" y1="540.2" x2="114.1" y2="540.2" stroke="#6e8cbe" stroke-width="1.55" stroke-dasharray="8.6,2.4,1.4,2.4"/>
<text x="120.5" y="543.2" font-size="8.33" fill="#262626">Dorado</text>
<line x1="154.1" y1="540.2" x2="170.9" y2="540.2" stroke="#28bebe" stroke-width="1.55" stroke-dasharray="1.4,2.3"/>
<text x="177.8" y="543.2" font-size="8.33" fill="#262626">RODAN</text>
<line x1="214.6" y1="540.2" x2="231.4" y2="540.2" stroke="#f07d32" stroke-width="1.55" stroke-dasharray="6.9,6.9"/>
<text x="238" y="543.2" font-size="8.33" fill="#262626">GCRT<tspan dx="-0.5">call</tspan></text>
<line x1="279.4" y1="540.2" x2="296.2" y2="540.2" stroke="#e1553c" stroke-width="1.55" stroke-dasharray="4.5,1.4,1.0,1.4"/>
<text x="303" y="543.2" font-size="8.33" fill="#262626">Coral</text>
<text x="355.8" y="525.9" font-size="10.5" fill="#000" font-weight="bold">e</text>
<clipPath id="ce"><rect x="397.7" y="551.6" width="268.59999999999997" height="136.69999999999993"/></clipPath>
<g clip-path="url(#ce)">
<polygon points="409.6,656.86 454.28,613.25 496.62,610.71 536.94,599.44 574.91,582 626.99,567.46 666.3,558.02 666.3,588.54 626.99,592.54 574.91,600.9 536.94,623.43 496.62,630.33 454.28,650.68 409.6,682.3" stroke="none" stroke-width="1" fill="#1f77b4" fill-opacity="0.2" stroke="#1f77b4" stroke-opacity="0.25" stroke-width="0.8"/>
<line x1="415.51" y1="688.3" x2="415.51" y2="551.6" stroke="#f5b43c" stroke-width="1.55" stroke-dasharray="5.4,1.9"/>
<line x1="452.6" y1="688.3" x2="452.6" y2="551.6" stroke="#6e8cbe" stroke-width="1.55" stroke-dasharray="8.6,2.4,1.4,2.4"/>
<line x1="509.05" y1="688.3" x2="509.05" y2="551.6" stroke="#28bebe" stroke-width="1.55" stroke-dasharray="1.4,2.3"/>
<line x1="521.32" y1="688.3" x2="521.32" y2="551.6" stroke="#f07d32" stroke-width="1.55" stroke-dasharray="6.9,6.9"/>
<line x1="641.77" y1="688.3" x2="641.77" y2="551.6" stroke="#e1553c" stroke-width="1.55" stroke-dasharray="4.5,1.4,1.0,1.4"/>
<polyline points="409.6,669 454.28,633.31 496.62,620.41 536.94,611.18 574.91,590.21 626.99,580.69 666.3,573.6" stroke="#1f77b4" stroke-width="1.6" fill="none"/>
<circle cx="409.6" cy="669" r="2.9" fill="#1f77b4" stroke="#fff" stroke-width="0.7"/>
<circle cx="454.28" cy="633.31" r="2.9" fill="#1f77b4" stroke="#fff" stroke-width="0.7"/>
<circle cx="496.62" cy="620.41" r="2.9" fill="#1f77b4" stroke="#fff" stroke-width="0.7"/>
<circle cx="536.94" cy="611.18" r="2.9" fill="#1f77b4" stroke="#fff" stroke-width="0.7"/>
<circle cx="574.91" cy="590.21" r="2.9" fill="#1f77b4" stroke="#fff" stroke-width="0.7"/>
<circle cx="626.99" cy="580.69" r="2.9" fill="#1f77b4" stroke="#fff" stroke-width="0.7"/>
<circle cx="666.3" cy="573.6" r="2.9" fill="#1f77b4" stroke="#fff" stroke-width="0.7"/>
</g>
<rect x="397.7" y="551.6" width="268.6" height="136.7" rx="0" fill="none" stroke="#333" stroke-width="1.1"/>
<line x1="397.5" y1="688.3" x2="397.5" y2="691.3" stroke="#333" stroke-width="0.9"/>
<text x="397.5" y="702.3" font-size="8.33" text-anchor="middle" fill="#262626">89</text>
<line x1="431.1" y1="688.3" x2="431.1" y2="691.3" stroke="#333" stroke-width="0.9"/>
<text x="431.1" y="702.3" font-size="8.33" text-anchor="middle" fill="#262626">90</text>
<line x1="464.7" y1="688.3" x2="464.7" y2="691.3" stroke="#333" stroke-width="0.9"/>
<text x="464.7" y="702.3" font-size="8.33" text-anchor="middle" fill="#262626">91</text>
<line x1="498.3" y1="688.3" x2="498.3" y2="691.3" stroke="#333" stroke-width="0.9"/>
<text x="498.3" y="702.3" font-size="8.33" text-anchor="middle" fill="#262626">92</text>
<line x1="531.9" y1="688.3" x2="531.9" y2="691.3" stroke="#333" stroke-width="0.9"/>
<text x="531.9" y="702.3" font-size="8.33" text-anchor="middle" fill="#262626">93</text>
<line x1="565.5" y1="688.3" x2="565.5" y2="691.3" stroke="#333" stroke-width="0.9"/>
<text x="565.5" y="702.3" font-size="8.33" text-anchor="middle" fill="#262626">94</text>
<line x1="599.1" y1="688.3" x2="599.1" y2="691.3" stroke="#333" stroke-width="0.9"/>
<text x="599.1" y="702.3" font-size="8.33" text-anchor="middle" fill="#262626">95</text>
<line x1="632.7" y1="688.3" x2="632.7" y2="691.3" stroke="#333" stroke-width="0.9"/>
<text x="632.7" y="702.3" font-size="8.33" text-anchor="middle" fill="#262626">96</text>
<line x1="394.7" y1="676.12" x2="397.7" y2="676.12" stroke="#333" stroke-width="0.9"/>
<text x="389.9" y="679.12" font-size="8.33" text-anchor="end" fill="#262626">0.895</text>
<line x1="394.7" y1="657.95" x2="397.7" y2="657.95" stroke="#333" stroke-width="0.9"/>
<text x="389.9" y="660.95" font-size="8.33" text-anchor="end" fill="#262626">0.900</text>
<line x1="394.7" y1="639.78" x2="397.7" y2="639.78" stroke="#333" stroke-width="0.9"/>
<text x="389.9" y="642.78" font-size="8.33" text-anchor="end" fill="#262626">0.905</text>
<line x1="394.7" y1="621.61" x2="397.7" y2="621.61" stroke="#333" stroke-width="0.9"/>
<text x="389.9" y="624.61" font-size="8.33" text-anchor="end" fill="#262626">0.910</text>
<line x1="394.7" y1="603.44" x2="397.7" y2="603.44" stroke="#333" stroke-width="0.9"/>
<text x="389.9" y="606.44" font-size="8.33" text-anchor="end" fill="#262626">0.915</text>
<line x1="394.7" y1="585.27" x2="397.7" y2="585.27" stroke="#333" stroke-width="0.9"/>
<text x="389.9" y="588.27" font-size="8.33" text-anchor="end" fill="#262626">0.920</text>
<line x1="394.7" y1="567.1" x2="397.7" y2="567.1" stroke="#333" stroke-width="0.9"/>
<text x="389.9" y="570.1" font-size="8.33" text-anchor="end" fill="#262626">0.925</text>
<text x="531.9" y="715.5" font-size="9.72" text-anchor="middle" fill="#262626">Simulated mean accuracy (%)</text>
<text x="361.3" y="619.8" font-size="9.72" text-anchor="middle" fill="#262626" transform="rotate(-90 361.3 619.8)">F1 score of detected ASE</text>
<rect x="389.6" y="520.4" width="288" height="27.2" rx="2" fill="#fff" stroke="#d6d6d6" stroke-width="0.8"/>
<text x="533.6" y="530.7" font-size="9.72" text-anchor="middle" fill="#262626">NA12878 mean accuracy</text>
<line x1="392.9" y1="540.2" x2="409.7" y2="540.2" stroke="#f5b43c" stroke-width="1.55" stroke-dasharray="5.4,1.9"/>
<text x="416.6" y="543.2" font-size="8.33" fill="#262626">Guppy</text>
<line x1="447.8" y1="540.2" x2="464.6" y2="540.2" stroke="#6e8cbe" stroke-width="1.55" stroke-dasharray="8.6,2.4,1.4,2.4"/>
<text x="471.4" y="543.2" font-size="8.33" fill="#262626">Dorado</text>
<line x1="505" y1="540.2" x2="521.8" y2="540.2" stroke="#28bebe" stroke-width="1.55" stroke-dasharray="1.4,2.3"/>
<text x="528.7" y="543.2" font-size="8.33" fill="#262626">RODAN</text>
<line x1="565.2" y1="540.2" x2="582" y2="540.2" stroke="#f07d32" stroke-width="1.55" stroke-dasharray="6.9,6.9"/>
<text x="589.1" y="543.2" font-size="8.33" fill="#262626">GCRT<tspan dx="-0.5">call</tspan></text>
<line x1="630.4" y1="540.2" x2="647.2" y2="540.2" stroke="#e1553c" stroke-width="1.55" stroke-dasharray="4.5,1.4,1.0,1.4"/>
<text x="654.3" y="543.2" font-size="8.33" fill="#262626">Coral</text>
</svg></body></html>
